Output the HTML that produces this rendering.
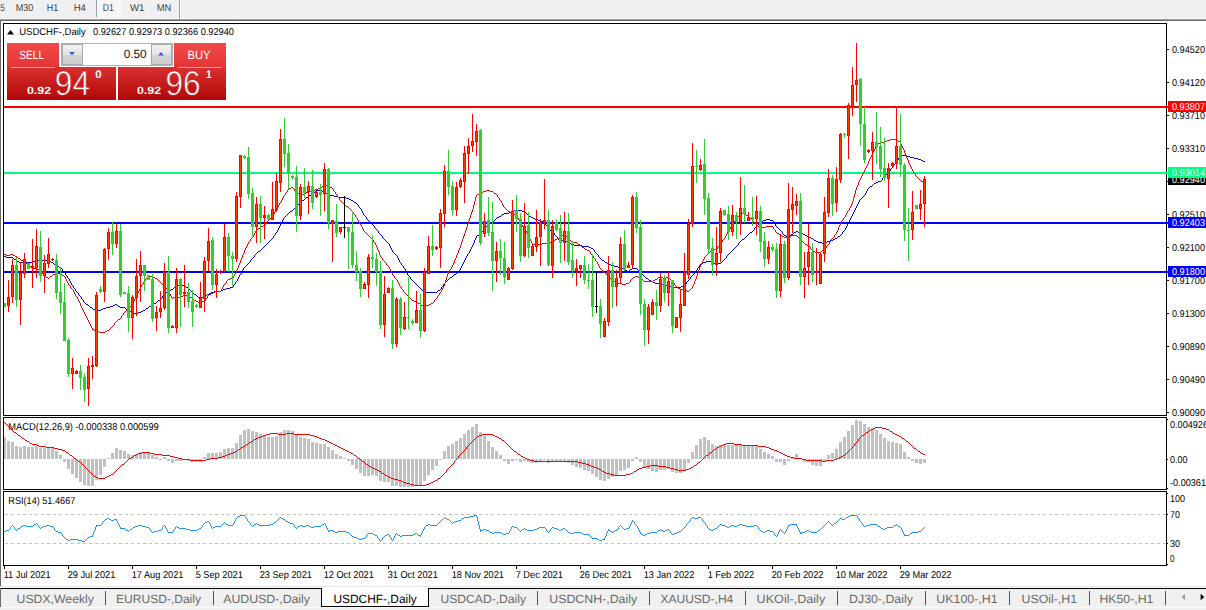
<!DOCTYPE html>
<html><head><meta charset="utf-8"><title>USDCHF-,Daily</title>
<style>html,body{margin:0;padding:0;background:#fff;overflow:hidden}svg{display:block}text{font-family:"Liberation Sans",sans-serif;white-space:pre}</style>
</head><body>
<svg width="1206" height="610" viewBox="0 0 1206 610" font-family="Liberation Sans, sans-serif" shape-rendering="crispEdges" text-rendering="geometricPrecision">
<defs>
<linearGradient id="gTop" x1="0" y1="0" x2="0" y2="1"><stop offset="0" stop-color="#f24a4a"/><stop offset="1" stop-color="#e43434"/></linearGradient>
<linearGradient id="gBot" gradientUnits="userSpaceOnUse" x1="0" y1="67" x2="0" y2="100"><stop offset="0" stop-color="#dc3030"/><stop offset="1" stop-color="#b00808"/></linearGradient>
<linearGradient id="gBtn" x1="0" y1="0" x2="0" y2="1"><stop offset="0" stop-color="#f4f4f4"/><stop offset="0.5" stop-color="#e4e4e4"/><stop offset="0.5" stop-color="#d4d4d4"/><stop offset="1" stop-color="#cfcfcf"/></linearGradient>
<pattern id="chk" width="2" height="2" patternUnits="userSpaceOnUse"><rect width="2" height="2" fill="#ffffff"/><rect width="1" height="1" fill="#f0f0f0"/><rect x="1" y="1" width="1" height="1" fill="#f0f0f0"/></pattern>
<clipPath id="cMain"><rect x="4" y="24" width="1162" height="391"/></clipPath>
<clipPath id="cMacd"><rect x="4" y="418" width="1162" height="71"/></clipPath>
<clipPath id="cRsi"><rect x="4" y="492" width="1162" height="73"/></clipPath>
</defs>
<rect x="0" y="0" width="1206" height="610" fill="#ffffff" />
<rect x="0" y="0" width="1206" height="19" fill="#f0f0f0" />
<rect x="0" y="18" width="1206" height="1" fill="#f8f8f8" />
<rect x="0" y="19" width="1206" height="1" fill="#a0a0a0" />
<rect x="0" y="20" width="1206" height="1" fill="#696969" />
<rect x="96" y="0" width="1" height="17" fill="#a0a0a0" />
<rect x="97" y="0" width="25" height="17" fill="url(#chk)" />
<rect x="179" y="0" width="1" height="19" fill="#a0a0a0" />
<rect x="180" y="0" width="1" height="19" fill="#ffffff" />
<g opacity="0.999">
<text x="0.3" y="11" font-size="10" fill="#404040" textLength="4.6" lengthAdjust="spacingAndGlyphs" >5</text>
<text x="15.7" y="11" font-size="10" fill="#404040" textLength="17.6" lengthAdjust="spacingAndGlyphs" >M30</text>
<text x="46.7" y="11" font-size="10" fill="#404040" textLength="11.5" lengthAdjust="spacingAndGlyphs" >H1</text>
<text x="73.7" y="11" font-size="10" fill="#404040" textLength="12.2" lengthAdjust="spacingAndGlyphs" >H4</text>
<text x="102.7" y="11" font-size="10" fill="#404040" textLength="11.2" lengthAdjust="spacingAndGlyphs" >D1</text>
<text x="130" y="11" font-size="10" fill="#404040" textLength="14.5" lengthAdjust="spacingAndGlyphs" >W1</text>
<text x="156.7" y="11" font-size="10" fill="#404040" textLength="14.6" lengthAdjust="spacingAndGlyphs" >MN</text>
</g>
<rect x="0" y="21" width="1" height="565" fill="#696969" />
<rect x="3" y="23" width="1164" height="1" fill="#000" />
<rect x="3" y="415" width="1164" height="1" fill="#000" />
<rect x="3" y="23" width="1" height="393" fill="#000" />
<rect x="1166" y="23" width="1" height="393" fill="#000" />
<rect x="3" y="417" width="1164" height="1" fill="#000" />
<rect x="3" y="489" width="1164" height="1" fill="#000" />
<rect x="3" y="417" width="1" height="73" fill="#000" />
<rect x="1166" y="417" width="1" height="73" fill="#000" />
<rect x="3" y="491" width="1164" height="1" fill="#000" />
<rect x="3" y="565" width="1164" height="1" fill="#000" />
<rect x="3" y="491" width="1" height="75" fill="#000" />
<rect x="1166" y="491" width="1" height="75" fill="#000" />
<rect x="4" y="106" width="1162" height="2" fill="#ff0000" />
<rect x="4" y="172" width="1162" height="2" fill="#00ff7f" />
<rect x="4" y="222" width="1162" height="2" fill="#0000ff" />
<rect x="4" y="271" width="1162" height="2" fill="#0000ff" />
<g clip-path="url(#cMain)">
<path fill="#0000ff" d="M902 155h4v1h-4zM900 156h2v1h-2zM906 156h4v1h-4zM899 157h1v1h-1zM910 157h4v1h-4zM898 158h1v1h-1zM914 158h4v1h-4zM898 159h1v1h-1zM918 159h3v1h-3zM897 160h1v1h-1zM921 160h2v1h-2zM896 161h1v1h-1zM923 161h2v1h-2zM895 162h1v1h-1zM895 163h1v1h-1zM894 164h1v1h-1zM893 165h1v1h-1zM893 166h1v1h-1zM892 167h1v1h-1zM891 168h1v1h-1zM890 169h1v1h-1zM890 170h1v1h-1zM889 171h1v1h-1zM888 172h1v1h-1zM887 173h1v1h-1zM886 174h1v1h-1zM885 175h1v1h-1zM884 176h1v1h-1zM883 177h1v1h-1zM882 178h1v1h-1zM882 179h1v1h-1zM881 180h1v1h-1zM878 181h3v1h-3zM876 182h2v1h-2zM874 183h2v1h-2zM873 184h1v1h-1zM872 185h1v1h-1zM870 186h2v1h-2zM869 187h1v1h-1zM868 188h1v1h-1zM867 189h1v1h-1zM316 190h6v1h-6zM867 190h1v1h-1zM315 191h1v1h-1zM322 191h3v1h-3zM866 191h1v1h-1zM314 192h1v1h-1zM325 192h1v1h-1zM866 192h1v1h-1zM313 193h1v1h-1zM326 193h2v1h-2zM865 193h1v1h-1zM311 194h2v1h-2zM328 194h2v1h-2zM865 194h1v1h-1zM309 195h2v1h-2zM330 195h4v1h-4zM864 195h1v1h-1zM308 196h1v1h-1zM334 196h4v1h-4zM863 196h1v1h-1zM306 197h2v1h-2zM338 197h8v1h-8zM862 197h1v1h-1zM305 198h1v1h-1zM346 198h3v1h-3zM861 198h1v1h-1zM304 199h1v1h-1zM349 199h2v1h-2zM860 199h1v1h-1zM302 200h2v1h-2zM351 200h2v1h-2zM859 200h1v1h-1zM301 201h1v1h-1zM353 201h1v1h-1zM859 201h1v1h-1zM300 202h1v1h-1zM354 202h2v1h-2zM858 202h1v1h-1zM299 203h1v1h-1zM356 203h1v1h-1zM858 203h1v1h-1zM298 204h1v1h-1zM357 204h1v1h-1zM857 204h1v1h-1zM297 205h1v1h-1zM358 205h1v1h-1zM857 205h1v1h-1zM296 206h1v1h-1zM358 206h1v1h-1zM856 206h1v1h-1zM295 207h1v1h-1zM359 207h1v1h-1zM856 207h1v1h-1zM294 208h1v1h-1zM360 208h1v1h-1zM855 208h1v1h-1zM293 209h1v1h-1zM361 209h1v1h-1zM855 209h1v1h-1zM292 210h1v1h-1zM361 210h1v1h-1zM514 210h8v1h-8zM854 210h1v1h-1zM290 211h2v1h-2zM362 211h1v1h-1zM511 211h3v1h-3zM522 211h3v1h-3zM854 211h1v1h-1zM289 212h1v1h-1zM362 212h1v1h-1zM509 212h2v1h-2zM525 212h1v1h-1zM853 212h1v1h-1zM288 213h1v1h-1zM363 213h1v1h-1zM504 213h5v1h-5zM526 213h1v1h-1zM853 213h1v1h-1zM287 214h1v1h-1zM363 214h1v1h-1zM502 214h2v1h-2zM527 214h1v1h-1zM852 214h1v1h-1zM286 215h1v1h-1zM364 215h1v1h-1zM501 215h1v1h-1zM528 215h1v1h-1zM852 215h1v1h-1zM285 216h1v1h-1zM365 216h1v1h-1zM499 216h2v1h-2zM529 216h2v1h-2zM851 216h1v1h-1zM284 217h1v1h-1zM366 217h1v1h-1zM497 217h2v1h-2zM531 217h2v1h-2zM851 217h1v1h-1zM283 218h1v1h-1zM366 218h1v1h-1zM496 218h1v1h-1zM533 218h2v1h-2zM850 218h1v1h-1zM283 219h1v1h-1zM367 219h1v1h-1zM495 219h1v1h-1zM535 219h3v1h-3zM766 219h4v1h-4zM850 219h1v1h-1zM282 220h1v1h-1zM368 220h1v1h-1zM494 220h1v1h-1zM538 220h3v1h-3zM763 220h3v1h-3zM770 220h3v1h-3zM849 220h1v1h-1zM282 221h1v1h-1zM369 221h1v1h-1zM493 221h1v1h-1zM541 221h2v1h-2zM761 221h2v1h-2zM773 221h1v1h-1zM849 221h1v1h-1zM281 222h1v1h-1zM370 222h1v1h-1zM491 222h2v1h-2zM543 222h2v1h-2zM760 222h1v1h-1zM773 222h1v1h-1zM848 222h1v1h-1zM281 223h1v1h-1zM371 223h1v1h-1zM489 223h2v1h-2zM545 223h1v1h-1zM759 223h1v1h-1zM774 223h1v1h-1zM848 223h1v1h-1zM280 224h1v1h-1zM372 224h1v1h-1zM488 224h1v1h-1zM545 224h1v1h-1zM758 224h1v1h-1zM775 224h1v1h-1zM847 224h1v1h-1zM280 225h1v1h-1zM373 225h1v1h-1zM487 225h1v1h-1zM546 225h1v1h-1zM757 225h1v1h-1zM775 225h1v1h-1zM847 225h1v1h-1zM279 226h1v1h-1zM374 226h1v1h-1zM486 226h1v1h-1zM547 226h1v1h-1zM756 226h1v1h-1zM776 226h1v1h-1zM846 226h1v1h-1zM279 227h1v1h-1zM374 227h1v1h-1zM485 227h1v1h-1zM547 227h1v1h-1zM755 227h1v1h-1zM777 227h1v1h-1zM846 227h1v1h-1zM278 228h1v1h-1zM375 228h1v1h-1zM484 228h1v1h-1zM548 228h1v1h-1zM754 228h1v1h-1zM778 228h1v1h-1zM845 228h1v1h-1zM278 229h1v1h-1zM376 229h1v1h-1zM483 229h1v1h-1zM549 229h1v1h-1zM754 229h1v1h-1zM779 229h1v1h-1zM845 229h1v1h-1zM277 230h1v1h-1zM377 230h1v1h-1zM483 230h1v1h-1zM550 230h2v1h-2zM753 230h1v1h-1zM780 230h1v1h-1zM844 230h1v1h-1zM277 231h1v1h-1zM378 231h1v1h-1zM482 231h1v1h-1zM552 231h1v1h-1zM752 231h1v1h-1zM781 231h1v1h-1zM796 231h2v1h-2zM843 231h1v1h-1zM276 232h1v1h-1zM378 232h1v1h-1zM481 232h1v1h-1zM553 232h1v1h-1zM750 232h2v1h-2zM782 232h1v1h-1zM794 232h2v1h-2zM798 232h3v1h-3zM842 232h1v1h-1zM275 233h1v1h-1zM379 233h1v1h-1zM481 233h1v1h-1zM554 233h1v1h-1zM749 233h1v1h-1zM782 233h1v1h-1zM793 233h1v1h-1zM801 233h2v1h-2zM842 233h1v1h-1zM275 234h1v1h-1zM380 234h1v1h-1zM479 234h2v1h-2zM554 234h1v1h-1zM748 234h1v1h-1zM783 234h1v1h-1zM791 234h2v1h-2zM803 234h2v1h-2zM841 234h1v1h-1zM274 235h1v1h-1zM381 235h1v1h-1zM477 235h2v1h-2zM555 235h1v1h-1zM747 235h1v1h-1zM784 235h2v1h-2zM789 235h2v1h-2zM805 235h2v1h-2zM840 235h1v1h-1zM273 236h1v1h-1zM382 236h1v1h-1zM476 236h1v1h-1zM556 236h1v1h-1zM746 236h1v1h-1zM786 236h3v1h-3zM807 236h2v1h-2zM838 236h2v1h-2zM273 237h1v1h-1zM382 237h1v1h-1zM476 237h1v1h-1zM557 237h1v1h-1zM745 237h1v1h-1zM809 237h2v1h-2zM837 237h1v1h-1zM272 238h1v1h-1zM383 238h1v1h-1zM475 238h1v1h-1zM558 238h1v1h-1zM744 238h1v1h-1zM811 238h2v1h-2zM835 238h2v1h-2zM271 239h1v1h-1zM384 239h1v1h-1zM475 239h1v1h-1zM558 239h1v1h-1zM742 239h2v1h-2zM813 239h1v1h-1zM833 239h2v1h-2zM270 240h1v1h-1zM385 240h1v1h-1zM474 240h1v1h-1zM559 240h1v1h-1zM562 240h3v1h-3zM741 240h1v1h-1zM814 240h2v1h-2zM830 240h3v1h-3zM269 241h1v1h-1zM386 241h1v1h-1zM474 241h1v1h-1zM560 241h2v1h-2zM565 241h2v1h-2zM740 241h1v1h-1zM816 241h2v1h-2zM827 241h3v1h-3zM268 242h1v1h-1zM387 242h1v1h-1zM474 242h1v1h-1zM567 242h2v1h-2zM739 242h1v1h-1zM818 242h4v1h-4zM825 242h2v1h-2zM267 243h1v1h-1zM388 243h1v1h-1zM473 243h1v1h-1zM569 243h2v1h-2zM738 243h1v1h-1zM822 243h3v1h-3zM266 244h1v1h-1zM389 244h1v1h-1zM473 244h1v1h-1zM571 244h3v1h-3zM738 244h1v1h-1zM265 245h1v1h-1zM389 245h1v1h-1zM472 245h1v1h-1zM574 245h8v1h-8zM737 245h1v1h-1zM264 246h1v1h-1zM390 246h1v1h-1zM472 246h1v1h-1zM582 246h7v1h-7zM736 246h1v1h-1zM263 247h1v1h-1zM390 247h1v1h-1zM471 247h1v1h-1zM589 247h2v1h-2zM735 247h1v1h-1zM262 248h1v1h-1zM391 248h1v1h-1zM471 248h1v1h-1zM591 248h2v1h-2zM734 248h1v1h-1zM261 249h1v1h-1zM391 249h1v1h-1zM470 249h1v1h-1zM593 249h1v1h-1zM733 249h1v1h-1zM260 250h1v1h-1zM392 250h1v1h-1zM470 250h1v1h-1zM594 250h1v1h-1zM732 250h1v1h-1zM258 251h2v1h-2zM392 251h1v1h-1zM469 251h1v1h-1zM594 251h1v1h-1zM731 251h1v1h-1zM257 252h1v1h-1zM393 252h1v1h-1zM469 252h1v1h-1zM595 252h1v1h-1zM730 252h1v1h-1zM256 253h1v1h-1zM394 253h1v1h-1zM468 253h1v1h-1zM596 253h1v1h-1zM729 253h1v1h-1zM255 254h1v1h-1zM395 254h1v1h-1zM467 254h1v1h-1zM597 254h1v1h-1zM728 254h1v1h-1zM254 255h1v1h-1zM396 255h1v1h-1zM467 255h1v1h-1zM598 255h1v1h-1zM727 255h1v1h-1zM4 256h2v1h-2zM254 256h1v1h-1zM397 256h1v1h-1zM466 256h1v1h-1zM598 256h1v1h-1zM726 256h1v1h-1zM6 257h7v1h-7zM253 257h1v1h-1zM397 257h1v1h-1zM466 257h1v1h-1zM599 257h1v1h-1zM726 257h1v1h-1zM13 258h1v1h-1zM252 258h1v1h-1zM398 258h1v1h-1zM465 258h1v1h-1zM600 258h1v1h-1zM725 258h1v1h-1zM14 259h2v1h-2zM251 259h1v1h-1zM398 259h1v1h-1zM465 259h1v1h-1zM601 259h1v1h-1zM724 259h1v1h-1zM16 260h1v1h-1zM35 260h14v1h-14zM250 260h1v1h-1zM399 260h1v1h-1zM464 260h1v1h-1zM602 260h2v1h-2zM723 260h1v1h-1zM17 261h2v1h-2zM33 261h2v1h-2zM49 261h2v1h-2zM250 261h1v1h-1zM399 261h1v1h-1zM464 261h1v1h-1zM604 261h1v1h-1zM706 261h7v1h-7zM722 261h1v1h-1zM19 262h14v1h-14zM51 262h2v1h-2zM249 262h1v1h-1zM400 262h1v1h-1zM463 262h1v1h-1zM605 262h2v1h-2zM703 262h3v1h-3zM713 262h1v1h-1zM721 262h1v1h-1zM53 263h1v1h-1zM248 263h1v1h-1zM401 263h1v1h-1zM463 263h1v1h-1zM607 263h2v1h-2zM701 263h2v1h-2zM714 263h2v1h-2zM718 263h3v1h-3zM54 264h2v1h-2zM247 264h1v1h-1zM401 264h1v1h-1zM462 264h1v1h-1zM609 264h2v1h-2zM700 264h1v1h-1zM716 264h2v1h-2zM56 265h1v1h-1zM246 265h1v1h-1zM402 265h1v1h-1zM462 265h1v1h-1zM611 265h3v1h-3zM699 265h1v1h-1zM57 266h2v1h-2zM245 266h1v1h-1zM403 266h1v1h-1zM461 266h1v1h-1zM614 266h4v1h-4zM699 266h1v1h-1zM59 267h2v1h-2zM244 267h1v1h-1zM403 267h1v1h-1zM461 267h1v1h-1zM618 267h3v1h-3zM698 267h1v1h-1zM61 268h1v1h-1zM243 268h1v1h-1zM404 268h1v1h-1zM460 268h1v1h-1zM621 268h2v1h-2zM632 268h5v1h-5zM697 268h1v1h-1zM62 269h1v1h-1zM243 269h1v1h-1zM405 269h1v1h-1zM460 269h1v1h-1zM623 269h2v1h-2zM630 269h2v1h-2zM637 269h1v1h-1zM697 269h1v1h-1zM62 270h1v1h-1zM242 270h1v1h-1zM405 270h1v1h-1zM459 270h1v1h-1zM625 270h2v1h-2zM629 270h1v1h-1zM638 270h1v1h-1zM696 270h1v1h-1zM63 271h1v1h-1zM242 271h1v1h-1zM406 271h1v1h-1zM458 271h1v1h-1zM627 271h2v1h-2zM639 271h1v1h-1zM695 271h1v1h-1zM64 272h1v1h-1zM241 272h1v1h-1zM406 272h1v1h-1zM457 272h1v1h-1zM640 272h1v1h-1zM694 272h1v1h-1zM65 273h1v1h-1zM241 273h1v1h-1zM407 273h1v1h-1zM456 273h1v1h-1zM641 273h1v1h-1zM694 273h1v1h-1zM65 274h1v1h-1zM240 274h1v1h-1zM407 274h1v1h-1zM454 274h2v1h-2zM642 274h1v1h-1zM693 274h1v1h-1zM66 275h1v1h-1zM239 275h1v1h-1zM408 275h1v1h-1zM453 275h1v1h-1zM643 275h1v1h-1zM692 275h1v1h-1zM67 276h1v1h-1zM239 276h1v1h-1zM409 276h1v1h-1zM452 276h1v1h-1zM644 276h1v1h-1zM691 276h1v1h-1zM67 277h1v1h-1zM238 277h1v1h-1zM410 277h1v1h-1zM450 277h2v1h-2zM645 277h1v1h-1zM690 277h1v1h-1zM68 278h1v1h-1zM238 278h1v1h-1zM410 278h1v1h-1zM449 278h1v1h-1zM646 278h2v1h-2zM690 278h1v1h-1zM69 279h1v1h-1zM237 279h1v1h-1zM411 279h1v1h-1zM448 279h1v1h-1zM648 279h1v1h-1zM689 279h1v1h-1zM69 280h1v1h-1zM237 280h1v1h-1zM412 280h1v1h-1zM447 280h1v1h-1zM649 280h2v1h-2zM688 280h1v1h-1zM70 281h1v1h-1zM236 281h1v1h-1zM413 281h1v1h-1zM446 281h1v1h-1zM651 281h2v1h-2zM687 281h1v1h-1zM70 282h1v1h-1zM235 282h1v1h-1zM414 282h1v1h-1zM445 282h1v1h-1zM653 282h2v1h-2zM686 282h1v1h-1zM71 283h1v1h-1zM235 283h1v1h-1zM415 283h1v1h-1zM444 283h1v1h-1zM655 283h6v1h-6zM686 283h1v1h-1zM71 284h1v1h-1zM234 284h1v1h-1zM416 284h1v1h-1zM443 284h1v1h-1zM661 284h2v1h-2zM685 284h1v1h-1zM72 285h1v1h-1zM176 285h9v1h-9zM233 285h1v1h-1zM417 285h1v1h-1zM443 285h1v1h-1zM663 285h6v1h-6zM683 285h2v1h-2zM73 286h1v1h-1zM175 286h1v1h-1zM185 286h1v1h-1zM233 286h1v1h-1zM418 286h1v1h-1zM442 286h1v1h-1zM669 286h2v1h-2zM681 286h2v1h-2zM73 287h1v1h-1zM174 287h1v1h-1zM186 287h2v1h-2zM230 287h3v1h-3zM419 287h1v1h-1zM441 287h1v1h-1zM671 287h10v1h-10zM74 288h1v1h-1zM173 288h1v1h-1zM188 288h1v1h-1zM226 288h4v1h-4zM420 288h1v1h-1zM441 288h1v1h-1zM75 289h1v1h-1zM171 289h2v1h-2zM189 289h1v1h-1zM223 289h3v1h-3zM421 289h1v1h-1zM440 289h1v1h-1zM75 290h1v1h-1zM169 290h2v1h-2zM190 290h1v1h-1zM221 290h2v1h-2zM422 290h2v1h-2zM438 290h2v1h-2zM76 291h1v1h-1zM168 291h1v1h-1zM191 291h1v1h-1zM214 291h7v1h-7zM424 291h2v1h-2zM437 291h1v1h-1zM77 292h1v1h-1zM166 292h2v1h-2zM192 292h1v1h-1zM211 292h3v1h-3zM426 292h11v1h-11zM78 293h1v1h-1zM165 293h1v1h-1zM193 293h1v1h-1zM209 293h2v1h-2zM78 294h1v1h-1zM164 294h1v1h-1zM194 294h2v1h-2zM207 294h2v1h-2zM79 295h1v1h-1zM163 295h1v1h-1zM196 295h1v1h-1zM205 295h2v1h-2zM80 296h1v1h-1zM162 296h1v1h-1zM197 296h1v1h-1zM203 296h2v1h-2zM81 297h1v1h-1zM162 297h1v1h-1zM198 297h2v1h-2zM201 297h2v1h-2zM81 298h1v1h-1zM161 298h1v1h-1zM200 298h1v1h-1zM82 299h1v1h-1zM160 299h1v1h-1zM83 300h1v1h-1zM158 300h2v1h-2zM83 301h1v1h-1zM157 301h1v1h-1zM84 302h1v1h-1zM156 302h1v1h-1zM85 303h1v1h-1zM154 303h2v1h-2zM86 304h2v1h-2zM115 304h2v1h-2zM153 304h1v1h-1zM88 305h1v1h-1zM113 305h2v1h-2zM117 305h1v1h-1zM151 305h2v1h-2zM89 306h1v1h-1zM110 306h3v1h-3zM118 306h2v1h-2zM149 306h2v1h-2zM90 307h2v1h-2zM106 307h4v1h-4zM120 307h5v1h-5zM148 307h1v1h-1zM92 308h1v1h-1zM103 308h3v1h-3zM125 308h1v1h-1zM146 308h2v1h-2zM93 309h2v1h-2zM101 309h2v1h-2zM126 309h2v1h-2zM145 309h1v1h-1zM95 310h6v1h-6zM128 310h1v1h-1zM143 310h2v1h-2zM129 311h2v1h-2zM141 311h2v1h-2zM131 312h3v1h-3zM138 312h3v1h-3zM134 313h4v1h-4z"/>
<path fill="#ff0000" d="M890 139h7v1h-7zM887 140h3v1h-3zM897 140h1v1h-1zM885 141h2v1h-2zM898 141h2v1h-2zM880 142h5v1h-5zM900 142h1v1h-1zM878 143h2v1h-2zM900 143h1v1h-1zM877 144h1v1h-1zM901 144h1v1h-1zM876 145h1v1h-1zM901 145h1v1h-1zM876 146h1v1h-1zM902 146h1v1h-1zM875 147h1v1h-1zM902 147h1v1h-1zM875 148h1v1h-1zM903 148h1v1h-1zM874 149h1v1h-1zM903 149h1v1h-1zM874 150h1v1h-1zM904 150h1v1h-1zM873 151h1v1h-1zM904 151h1v1h-1zM873 152h1v1h-1zM904 152h1v1h-1zM872 153h1v1h-1zM905 153h1v1h-1zM872 154h1v1h-1zM905 154h1v1h-1zM871 155h1v1h-1zM906 155h1v1h-1zM871 156h1v1h-1zM906 156h1v1h-1zM870 157h1v1h-1zM906 157h1v1h-1zM870 158h1v1h-1zM907 158h1v1h-1zM869 159h1v1h-1zM907 159h1v1h-1zM869 160h1v1h-1zM908 160h1v1h-1zM868 161h1v1h-1zM908 161h1v1h-1zM868 162h1v1h-1zM908 162h1v1h-1zM868 163h1v1h-1zM909 163h1v1h-1zM867 164h1v1h-1zM909 164h1v1h-1zM867 165h1v1h-1zM910 165h1v1h-1zM866 166h1v1h-1zM910 166h1v1h-1zM866 167h1v1h-1zM911 167h1v1h-1zM865 168h1v1h-1zM911 168h1v1h-1zM865 169h1v1h-1zM912 169h1v1h-1zM864 170h1v1h-1zM912 170h1v1h-1zM864 171h1v1h-1zM913 171h1v1h-1zM863 172h1v1h-1zM913 172h1v1h-1zM863 173h1v1h-1zM914 173h1v1h-1zM862 174h1v1h-1zM915 174h1v1h-1zM862 175h1v1h-1zM915 175h1v1h-1zM861 176h1v1h-1zM916 176h1v1h-1zM861 177h1v1h-1zM917 177h1v1h-1zM860 178h1v1h-1zM918 178h1v1h-1zM860 179h1v1h-1zM919 179h1v1h-1zM859 180h1v1h-1zM920 180h1v1h-1zM859 181h1v1h-1zM921 181h2v1h-2zM858 182h1v1h-1zM923 182h2v1h-2zM858 183h1v1h-1zM324 184h2v1h-2zM858 184h1v1h-1zM323 185h1v1h-1zM326 185h3v1h-3zM857 185h1v1h-1zM322 186h1v1h-1zM329 186h1v1h-1zM857 186h1v1h-1zM291 187h2v1h-2zM321 187h1v1h-1zM330 187h2v1h-2zM856 187h1v1h-1zM289 188h2v1h-2zM293 188h1v1h-1zM318 188h3v1h-3zM332 188h1v1h-1zM856 188h1v1h-1zM288 189h1v1h-1zM294 189h1v1h-1zM315 189h3v1h-3zM333 189h1v1h-1zM856 189h1v1h-1zM287 190h1v1h-1zM294 190h1v1h-1zM313 190h2v1h-2zM333 190h1v1h-1zM486 190h4v1h-4zM855 190h1v1h-1zM287 191h1v1h-1zM295 191h1v1h-1zM308 191h5v1h-5zM334 191h1v1h-1zM483 191h3v1h-3zM490 191h3v1h-3zM855 191h1v1h-1zM286 192h1v1h-1zM296 192h1v1h-1zM306 192h2v1h-2zM335 192h1v1h-1zM481 192h2v1h-2zM493 192h1v1h-1zM855 192h1v1h-1zM285 193h1v1h-1zM297 193h2v1h-2zM305 193h1v1h-1zM335 193h1v1h-1zM479 193h2v1h-2zM494 193h2v1h-2zM855 193h1v1h-1zM285 194h1v1h-1zM299 194h6v1h-6zM336 194h1v1h-1zM477 194h2v1h-2zM496 194h1v1h-1zM854 194h1v1h-1zM284 195h1v1h-1zM337 195h1v1h-1zM476 195h1v1h-1zM497 195h1v1h-1zM854 195h1v1h-1zM283 196h1v1h-1zM337 196h1v1h-1zM476 196h1v1h-1zM497 196h1v1h-1zM854 196h1v1h-1zM283 197h1v1h-1zM338 197h1v1h-1zM475 197h1v1h-1zM498 197h1v1h-1zM853 197h1v1h-1zM282 198h1v1h-1zM339 198h1v1h-1zM475 198h1v1h-1zM499 198h1v1h-1zM853 198h1v1h-1zM282 199h1v1h-1zM339 199h1v1h-1zM475 199h1v1h-1zM499 199h1v1h-1zM853 199h1v1h-1zM281 200h1v1h-1zM340 200h1v1h-1zM475 200h1v1h-1zM500 200h1v1h-1zM853 200h1v1h-1zM281 201h1v1h-1zM341 201h1v1h-1zM474 201h1v1h-1zM501 201h1v1h-1zM852 201h1v1h-1zM280 202h1v1h-1zM342 202h1v1h-1zM474 202h1v1h-1zM501 202h1v1h-1zM852 202h1v1h-1zM279 203h1v1h-1zM343 203h1v1h-1zM474 203h1v1h-1zM502 203h1v1h-1zM852 203h1v1h-1zM279 204h1v1h-1zM344 204h1v1h-1zM474 204h1v1h-1zM502 204h1v1h-1zM851 204h1v1h-1zM278 205h1v1h-1zM345 205h1v1h-1zM473 205h1v1h-1zM503 205h1v1h-1zM851 205h1v1h-1zM278 206h1v1h-1zM346 206h2v1h-2zM473 206h1v1h-1zM503 206h1v1h-1zM850 206h1v1h-1zM277 207h1v1h-1zM348 207h1v1h-1zM473 207h1v1h-1zM504 207h1v1h-1zM850 207h1v1h-1zM277 208h1v1h-1zM349 208h1v1h-1zM473 208h1v1h-1zM505 208h1v1h-1zM849 208h1v1h-1zM276 209h1v1h-1zM350 209h1v1h-1zM472 209h1v1h-1zM506 209h1v1h-1zM849 209h1v1h-1zM275 210h1v1h-1zM351 210h1v1h-1zM472 210h1v1h-1zM507 210h1v1h-1zM848 210h1v1h-1zM275 211h1v1h-1zM352 211h1v1h-1zM472 211h1v1h-1zM508 211h2v1h-2zM847 211h1v1h-1zM274 212h1v1h-1zM353 212h1v1h-1zM471 212h1v1h-1zM510 212h3v1h-3zM847 212h1v1h-1zM274 213h1v1h-1zM353 213h1v1h-1zM471 213h1v1h-1zM513 213h1v1h-1zM742 213h3v1h-3zM846 213h1v1h-1zM273 214h1v1h-1zM354 214h1v1h-1zM471 214h1v1h-1zM514 214h2v1h-2zM740 214h2v1h-2zM745 214h1v1h-1zM846 214h1v1h-1zM273 215h1v1h-1zM355 215h1v1h-1zM470 215h1v1h-1zM516 215h1v1h-1zM739 215h1v1h-1zM746 215h2v1h-2zM845 215h1v1h-1zM272 216h1v1h-1zM355 216h1v1h-1zM470 216h1v1h-1zM517 216h1v1h-1zM738 216h1v1h-1zM748 216h1v1h-1zM845 216h1v1h-1zM271 217h1v1h-1zM356 217h1v1h-1zM470 217h1v1h-1zM517 217h1v1h-1zM737 217h1v1h-1zM749 217h1v1h-1zM844 217h1v1h-1zM270 218h1v1h-1zM357 218h1v1h-1zM469 218h1v1h-1zM518 218h1v1h-1zM736 218h1v1h-1zM750 218h1v1h-1zM843 218h1v1h-1zM269 219h1v1h-1zM357 219h1v1h-1zM469 219h1v1h-1zM518 219h1v1h-1zM735 219h1v1h-1zM751 219h1v1h-1zM843 219h1v1h-1zM268 220h1v1h-1zM358 220h1v1h-1zM469 220h1v1h-1zM519 220h1v1h-1zM735 220h1v1h-1zM752 220h1v1h-1zM842 220h1v1h-1zM267 221h1v1h-1zM358 221h1v1h-1zM468 221h1v1h-1zM519 221h1v1h-1zM734 221h1v1h-1zM753 221h1v1h-1zM841 221h1v1h-1zM266 222h1v1h-1zM359 222h1v1h-1zM468 222h1v1h-1zM520 222h1v1h-1zM733 222h1v1h-1zM754 222h1v1h-1zM841 222h1v1h-1zM266 223h1v1h-1zM359 223h1v1h-1zM468 223h1v1h-1zM520 223h1v1h-1zM733 223h1v1h-1zM755 223h1v1h-1zM840 223h1v1h-1zM265 224h1v1h-1zM360 224h1v1h-1zM467 224h1v1h-1zM521 224h1v1h-1zM732 224h1v1h-1zM756 224h1v1h-1zM840 224h1v1h-1zM263 225h2v1h-2zM361 225h1v1h-1zM467 225h1v1h-1zM522 225h1v1h-1zM731 225h1v1h-1zM757 225h1v1h-1zM839 225h1v1h-1zM261 226h2v1h-2zM361 226h1v1h-1zM467 226h1v1h-1zM522 226h1v1h-1zM731 226h1v1h-1zM758 226h2v1h-2zM766 226h7v1h-7zM839 226h1v1h-1zM260 227h1v1h-1zM362 227h1v1h-1zM466 227h1v1h-1zM523 227h1v1h-1zM730 227h1v1h-1zM760 227h6v1h-6zM773 227h1v1h-1zM838 227h1v1h-1zM258 228h2v1h-2zM362 228h1v1h-1zM466 228h1v1h-1zM524 228h1v1h-1zM730 228h1v1h-1zM773 228h1v1h-1zM838 228h1v1h-1zM257 229h1v1h-1zM363 229h1v1h-1zM466 229h1v1h-1zM525 229h1v1h-1zM729 229h1v1h-1zM774 229h1v1h-1zM838 229h1v1h-1zM256 230h1v1h-1zM363 230h1v1h-1zM465 230h1v1h-1zM525 230h1v1h-1zM729 230h1v1h-1zM775 230h1v1h-1zM837 230h1v1h-1zM255 231h1v1h-1zM364 231h1v1h-1zM465 231h1v1h-1zM526 231h1v1h-1zM728 231h1v1h-1zM775 231h1v1h-1zM837 231h1v1h-1zM255 232h1v1h-1zM365 232h1v1h-1zM465 232h1v1h-1zM526 232h1v1h-1zM727 232h1v1h-1zM776 232h1v1h-1zM836 232h1v1h-1zM254 233h1v1h-1zM366 233h1v1h-1zM464 233h1v1h-1zM527 233h1v1h-1zM727 233h1v1h-1zM777 233h2v1h-2zM836 233h1v1h-1zM254 234h1v1h-1zM367 234h1v1h-1zM464 234h1v1h-1zM527 234h1v1h-1zM564 234h1v1h-1zM726 234h1v1h-1zM779 234h2v1h-2zM835 234h1v1h-1zM253 235h1v1h-1zM368 235h1v1h-1zM464 235h1v1h-1zM528 235h1v1h-1zM562 235h2v1h-2zM565 235h1v1h-1zM726 235h1v1h-1zM781 235h1v1h-1zM791 235h6v1h-6zM834 235h1v1h-1zM253 236h1v1h-1zM369 236h1v1h-1zM463 236h1v1h-1zM528 236h1v1h-1zM561 236h1v1h-1zM566 236h1v1h-1zM725 236h1v1h-1zM782 236h2v1h-2zM789 236h2v1h-2zM797 236h1v1h-1zM834 236h1v1h-1zM252 237h1v1h-1zM370 237h1v1h-1zM463 237h1v1h-1zM529 237h1v1h-1zM559 237h2v1h-2zM567 237h1v1h-1zM725 237h1v1h-1zM784 237h5v1h-5zM798 237h1v1h-1zM833 237h1v1h-1zM251 238h1v1h-1zM371 238h1v1h-1zM463 238h1v1h-1zM529 238h1v1h-1zM557 238h2v1h-2zM568 238h1v1h-1zM724 238h1v1h-1zM799 238h1v1h-1zM832 238h1v1h-1zM250 239h1v1h-1zM372 239h1v1h-1zM462 239h1v1h-1zM530 239h1v1h-1zM555 239h2v1h-2zM569 239h1v1h-1zM723 239h1v1h-1zM800 239h1v1h-1zM831 239h1v1h-1zM250 240h1v1h-1zM373 240h1v1h-1zM462 240h1v1h-1zM530 240h1v1h-1zM553 240h2v1h-2zM570 240h1v1h-1zM722 240h1v1h-1zM801 240h1v1h-1zM831 240h1v1h-1zM249 241h1v1h-1zM373 241h1v1h-1zM462 241h1v1h-1zM531 241h1v1h-1zM551 241h2v1h-2zM571 241h1v1h-1zM722 241h1v1h-1zM802 241h1v1h-1zM830 241h1v1h-1zM248 242h1v1h-1zM374 242h1v1h-1zM461 242h1v1h-1zM531 242h1v1h-1zM549 242h2v1h-2zM572 242h5v1h-5zM721 242h1v1h-1zM803 242h1v1h-1zM829 242h1v1h-1zM248 243h1v1h-1zM375 243h1v1h-1zM461 243h1v1h-1zM532 243h1v1h-1zM542 243h7v1h-7zM577 243h1v1h-1zM720 243h1v1h-1zM804 243h1v1h-1zM829 243h1v1h-1zM247 244h1v1h-1zM375 244h1v1h-1zM461 244h1v1h-1zM532 244h10v1h-10zM578 244h2v1h-2zM719 244h1v1h-1zM805 244h2v1h-2zM828 244h1v1h-1zM247 245h1v1h-1zM376 245h1v1h-1zM460 245h1v1h-1zM580 245h1v1h-1zM719 245h1v1h-1zM807 245h2v1h-2zM827 245h1v1h-1zM246 246h1v1h-1zM376 246h1v1h-1zM460 246h1v1h-1zM581 246h1v1h-1zM718 246h1v1h-1zM809 246h1v1h-1zM826 246h1v1h-1zM246 247h1v1h-1zM377 247h1v1h-1zM460 247h1v1h-1zM582 247h2v1h-2zM717 247h1v1h-1zM810 247h1v1h-1zM826 247h1v1h-1zM245 248h1v1h-1zM377 248h1v1h-1zM459 248h1v1h-1zM584 248h1v1h-1zM717 248h1v1h-1zM810 248h1v1h-1zM825 248h1v1h-1zM245 249h1v1h-1zM377 249h1v1h-1zM459 249h1v1h-1zM585 249h2v1h-2zM714 249h3v1h-3zM811 249h1v1h-1zM824 249h1v1h-1zM244 250h1v1h-1zM378 250h1v1h-1zM458 250h1v1h-1zM587 250h2v1h-2zM712 250h2v1h-2zM812 250h1v1h-1zM822 250h2v1h-2zM244 251h1v1h-1zM378 251h1v1h-1zM458 251h1v1h-1zM589 251h1v1h-1zM710 251h2v1h-2zM813 251h2v1h-2zM821 251h1v1h-1zM244 252h1v1h-1zM379 252h1v1h-1zM458 252h1v1h-1zM590 252h1v1h-1zM709 252h1v1h-1zM815 252h6v1h-6zM243 253h1v1h-1zM379 253h1v1h-1zM457 253h1v1h-1zM590 253h1v1h-1zM708 253h1v1h-1zM4 254h2v1h-2zM10 254h3v1h-3zM243 254h1v1h-1zM379 254h1v1h-1zM457 254h1v1h-1zM591 254h1v1h-1zM707 254h1v1h-1zM6 255h4v1h-4zM13 255h2v1h-2zM242 255h1v1h-1zM380 255h1v1h-1zM456 255h1v1h-1zM592 255h1v1h-1zM706 255h1v1h-1zM15 256h2v1h-2zM242 256h1v1h-1zM380 256h1v1h-1zM456 256h1v1h-1zM593 256h1v1h-1zM705 256h1v1h-1zM17 257h1v1h-1zM242 257h1v1h-1zM381 257h1v1h-1zM456 257h1v1h-1zM593 257h1v1h-1zM704 257h1v1h-1zM18 258h2v1h-2zM241 258h1v1h-1zM382 258h1v1h-1zM455 258h1v1h-1zM594 258h1v1h-1zM704 258h1v1h-1zM20 259h1v1h-1zM241 259h1v1h-1zM382 259h1v1h-1zM455 259h1v1h-1zM595 259h1v1h-1zM703 259h1v1h-1zM21 260h2v1h-2zM240 260h1v1h-1zM383 260h1v1h-1zM454 260h1v1h-1zM595 260h1v1h-1zM703 260h1v1h-1zM23 261h2v1h-2zM240 261h1v1h-1zM384 261h1v1h-1zM454 261h1v1h-1zM596 261h1v1h-1zM702 261h1v1h-1zM25 262h1v1h-1zM240 262h1v1h-1zM385 262h1v1h-1zM454 262h1v1h-1zM597 262h1v1h-1zM702 262h1v1h-1zM26 263h2v1h-2zM239 263h1v1h-1zM386 263h1v1h-1zM453 263h1v1h-1zM597 263h1v1h-1zM701 263h1v1h-1zM28 264h1v1h-1zM239 264h1v1h-1zM386 264h1v1h-1zM453 264h1v1h-1zM598 264h1v1h-1zM701 264h1v1h-1zM29 265h1v1h-1zM238 265h1v1h-1zM387 265h1v1h-1zM452 265h1v1h-1zM598 265h1v1h-1zM700 265h1v1h-1zM30 266h1v1h-1zM238 266h1v1h-1zM388 266h1v1h-1zM452 266h1v1h-1zM599 266h1v1h-1zM700 266h1v1h-1zM31 267h1v1h-1zM238 267h1v1h-1zM389 267h1v1h-1zM451 267h1v1h-1zM599 267h1v1h-1zM699 267h1v1h-1zM32 268h5v1h-5zM237 268h1v1h-1zM389 268h1v1h-1zM451 268h1v1h-1zM600 268h1v1h-1zM699 268h1v1h-1zM37 269h2v1h-2zM237 269h1v1h-1zM390 269h1v1h-1zM450 269h1v1h-1zM601 269h1v1h-1zM699 269h1v1h-1zM39 270h2v1h-2zM236 270h1v1h-1zM390 270h1v1h-1zM449 270h1v1h-1zM602 270h1v1h-1zM698 270h1v1h-1zM41 271h1v1h-1zM236 271h1v1h-1zM391 271h1v1h-1zM449 271h1v1h-1zM603 271h1v1h-1zM698 271h1v1h-1zM42 272h1v1h-1zM235 272h1v1h-1zM391 272h1v1h-1zM448 272h1v1h-1zM604 272h1v1h-1zM698 272h1v1h-1zM42 273h1v1h-1zM55 273h6v1h-6zM235 273h1v1h-1zM392 273h1v1h-1zM448 273h1v1h-1zM605 273h1v1h-1zM697 273h1v1h-1zM43 274h1v1h-1zM53 274h2v1h-2zM61 274h1v1h-1zM234 274h1v1h-1zM392 274h1v1h-1zM447 274h1v1h-1zM606 274h1v1h-1zM697 274h1v1h-1zM44 275h1v1h-1zM52 275h1v1h-1zM62 275h2v1h-2zM148 275h2v1h-2zM234 275h1v1h-1zM393 275h1v1h-1zM447 275h1v1h-1zM607 275h1v1h-1zM697 275h1v1h-1zM45 276h1v1h-1zM50 276h2v1h-2zM64 276h1v1h-1zM147 276h1v1h-1zM150 276h3v1h-3zM233 276h1v1h-1zM394 276h1v1h-1zM447 276h1v1h-1zM608 276h1v1h-1zM635 276h3v1h-3zM660 276h1v1h-1zM696 276h1v1h-1zM46 277h2v1h-2zM49 277h1v1h-1zM65 277h1v1h-1zM147 277h1v1h-1zM153 277h2v1h-2zM233 277h1v1h-1zM394 277h1v1h-1zM446 277h1v1h-1zM609 277h1v1h-1zM633 277h2v1h-2zM638 277h3v1h-3zM658 277h2v1h-2zM661 277h2v1h-2zM666 277h3v1h-3zM696 277h1v1h-1zM48 278h1v1h-1zM65 278h1v1h-1zM146 278h1v1h-1zM155 278h2v1h-2zM230 278h3v1h-3zM395 278h1v1h-1zM446 278h1v1h-1zM610 278h1v1h-1zM632 278h1v1h-1zM641 278h1v1h-1zM657 278h1v1h-1zM663 278h3v1h-3zM669 278h1v1h-1zM696 278h1v1h-1zM66 279h1v1h-1zM145 279h1v1h-1zM157 279h1v1h-1zM228 279h2v1h-2zM396 279h1v1h-1zM446 279h1v1h-1zM611 279h1v1h-1zM631 279h1v1h-1zM642 279h1v1h-1zM655 279h2v1h-2zM670 279h1v1h-1zM695 279h1v1h-1zM66 280h1v1h-1zM145 280h1v1h-1zM158 280h1v1h-1zM227 280h1v1h-1zM397 280h1v1h-1zM445 280h1v1h-1zM612 280h1v1h-1zM630 280h1v1h-1zM643 280h1v1h-1zM653 280h2v1h-2zM671 280h1v1h-1zM695 280h1v1h-1zM67 281h1v1h-1zM144 281h1v1h-1zM159 281h1v1h-1zM226 281h1v1h-1zM397 281h1v1h-1zM445 281h1v1h-1zM613 281h2v1h-2zM630 281h1v1h-1zM644 281h9v1h-9zM672 281h1v1h-1zM694 281h1v1h-1zM67 282h1v1h-1zM143 282h1v1h-1zM160 282h1v1h-1zM226 282h1v1h-1zM398 282h1v1h-1zM445 282h1v1h-1zM615 282h3v1h-3zM629 282h1v1h-1zM673 282h1v1h-1zM694 282h1v1h-1zM68 283h1v1h-1zM143 283h1v1h-1zM161 283h1v1h-1zM225 283h1v1h-1zM398 283h1v1h-1zM444 283h1v1h-1zM618 283h4v1h-4zM626 283h3v1h-3zM674 283h1v1h-1zM694 283h1v1h-1zM68 284h1v1h-1zM142 284h1v1h-1zM162 284h2v1h-2zM224 284h1v1h-1zM399 284h1v1h-1zM444 284h1v1h-1zM622 284h4v1h-4zM674 284h1v1h-1zM693 284h1v1h-1zM69 285h1v1h-1zM141 285h1v1h-1zM164 285h1v1h-1zM223 285h1v1h-1zM399 285h1v1h-1zM444 285h1v1h-1zM675 285h1v1h-1zM693 285h1v1h-1zM70 286h1v1h-1zM141 286h1v1h-1zM165 286h1v1h-1zM223 286h1v1h-1zM400 286h1v1h-1zM443 286h1v1h-1zM676 286h1v1h-1zM692 286h1v1h-1zM70 287h1v1h-1zM140 287h1v1h-1zM165 287h1v1h-1zM222 287h1v1h-1zM401 287h1v1h-1zM443 287h1v1h-1zM677 287h1v1h-1zM692 287h1v1h-1zM71 288h1v1h-1zM140 288h1v1h-1zM166 288h1v1h-1zM222 288h1v1h-1zM401 288h1v1h-1zM442 288h1v1h-1zM678 288h2v1h-2zM691 288h1v1h-1zM72 289h1v1h-1zM139 289h1v1h-1zM167 289h1v1h-1zM221 289h1v1h-1zM402 289h1v1h-1zM442 289h1v1h-1zM680 289h5v1h-5zM690 289h1v1h-1zM73 290h1v1h-1zM139 290h1v1h-1zM167 290h1v1h-1zM221 290h1v1h-1zM403 290h1v1h-1zM441 290h1v1h-1zM685 290h2v1h-2zM689 290h1v1h-1zM73 291h1v1h-1zM138 291h1v1h-1zM168 291h1v1h-1zM215 291h6v1h-6zM403 291h1v1h-1zM441 291h1v1h-1zM687 291h2v1h-2zM74 292h1v1h-1zM138 292h1v1h-1zM169 292h1v1h-1zM213 292h2v1h-2zM404 292h1v1h-1zM440 292h1v1h-1zM74 293h1v1h-1zM137 293h1v1h-1zM169 293h1v1h-1zM211 293h2v1h-2zM405 293h1v1h-1zM439 293h1v1h-1zM75 294h1v1h-1zM137 294h1v1h-1zM170 294h1v1h-1zM209 294h2v1h-2zM406 294h1v1h-1zM439 294h1v1h-1zM75 295h1v1h-1zM136 295h1v1h-1zM170 295h1v1h-1zM183 295h6v1h-6zM208 295h1v1h-1zM407 295h1v1h-1zM438 295h1v1h-1zM76 296h1v1h-1zM136 296h1v1h-1zM171 296h1v1h-1zM175 296h3v1h-3zM181 296h2v1h-2zM189 296h1v1h-1zM207 296h1v1h-1zM408 296h1v1h-1zM437 296h1v1h-1zM77 297h1v1h-1zM135 297h1v1h-1zM171 297h1v1h-1zM173 297h2v1h-2zM178 297h3v1h-3zM190 297h2v1h-2zM207 297h1v1h-1zM409 297h1v1h-1zM437 297h1v1h-1zM77 298h1v1h-1zM135 298h1v1h-1zM172 298h1v1h-1zM192 298h1v1h-1zM206 298h1v1h-1zM410 298h1v1h-1zM436 298h1v1h-1zM78 299h1v1h-1zM134 299h1v1h-1zM193 299h1v1h-1zM205 299h1v1h-1zM411 299h1v1h-1zM435 299h1v1h-1zM78 300h1v1h-1zM134 300h1v1h-1zM194 300h2v1h-2zM205 300h1v1h-1zM412 300h2v1h-2zM434 300h1v1h-1zM79 301h1v1h-1zM133 301h1v1h-1zM196 301h2v1h-2zM202 301h3v1h-3zM414 301h3v1h-3zM434 301h1v1h-1zM79 302h1v1h-1zM133 302h1v1h-1zM198 302h4v1h-4zM417 302h1v1h-1zM433 302h1v1h-1zM80 303h1v1h-1zM132 303h1v1h-1zM418 303h2v1h-2zM431 303h2v1h-2zM80 304h1v1h-1zM131 304h1v1h-1zM420 304h1v1h-1zM429 304h2v1h-2zM80 305h1v1h-1zM131 305h1v1h-1zM421 305h2v1h-2zM426 305h3v1h-3zM81 306h1v1h-1zM130 306h1v1h-1zM423 306h3v1h-3zM81 307h1v1h-1zM129 307h1v1h-1zM82 308h1v1h-1zM129 308h1v1h-1zM82 309h1v1h-1zM128 309h1v1h-1zM83 310h1v1h-1zM126 310h2v1h-2zM83 311h1v1h-1zM125 311h1v1h-1zM84 312h1v1h-1zM124 312h1v1h-1zM84 313h1v1h-1zM123 313h1v1h-1zM85 314h1v1h-1zM123 314h1v1h-1zM85 315h1v1h-1zM122 315h1v1h-1zM86 316h1v1h-1zM121 316h1v1h-1zM86 317h1v1h-1zM121 317h1v1h-1zM87 318h1v1h-1zM120 318h1v1h-1zM87 319h1v1h-1zM118 319h2v1h-2zM88 320h1v1h-1zM117 320h1v1h-1zM88 321h1v1h-1zM116 321h1v1h-1zM89 322h1v1h-1zM115 322h1v1h-1zM89 323h1v1h-1zM114 323h1v1h-1zM90 324h1v1h-1zM114 324h1v1h-1zM90 325h1v1h-1zM113 325h1v1h-1zM91 326h1v1h-1zM112 326h1v1h-1zM91 327h1v1h-1zM111 327h1v1h-1zM92 328h1v1h-1zM110 328h1v1h-1zM92 329h2v1h-2zM109 329h1v1h-1zM94 330h3v1h-3zM107 330h2v1h-2zM97 331h2v1h-2zM105 331h2v1h-2zM99 332h6v1h-6z"/>
<rect x="4" y="303" width="1" height="4" fill="#32cd32"/>
<rect x="3" y="303" width="3" height="4" fill="#32cd32"/>
<rect x="8" y="280" width="1" height="32" fill="#ff0000"/>
<rect x="7" y="297" width="3" height="9" fill="#ff0000"/>
<rect x="8" y="298" width="1" height="7" fill="#ff3c00"/>
<rect x="12" y="259" width="1" height="44" fill="#ff0000"/>
<rect x="11" y="265" width="3" height="32" fill="#ff0000"/>
<rect x="12" y="266" width="1" height="30" fill="#ff3c00"/>
<rect x="16" y="257" width="1" height="50" fill="#32cd32"/>
<rect x="15" y="265" width="3" height="35" fill="#32cd32"/>
<rect x="20" y="262" width="1" height="63" fill="#ff0000"/>
<rect x="19" y="273" width="3" height="27" fill="#ff0000"/>
<rect x="20" y="274" width="1" height="25" fill="#ff3c00"/>
<rect x="24" y="253" width="1" height="25" fill="#ff0000"/>
<rect x="23" y="259" width="3" height="15" fill="#ff0000"/>
<rect x="24" y="260" width="1" height="13" fill="#ff3c00"/>
<rect x="28" y="263" width="1" height="6" fill="#32cd32"/>
<rect x="27" y="263" width="3" height="6" fill="#32cd32"/>
<rect x="32" y="239" width="1" height="49" fill="#ff0000"/>
<rect x="31" y="266" width="3" height="2" fill="#ff0000"/>
<rect x="36" y="229" width="1" height="49" fill="#ff0000"/>
<rect x="35" y="246" width="3" height="22" fill="#ff0000"/>
<rect x="36" y="247" width="1" height="20" fill="#ff3c00"/>
<rect x="40" y="231" width="1" height="51" fill="#32cd32"/>
<rect x="39" y="247" width="3" height="29" fill="#32cd32"/>
<rect x="44" y="255" width="1" height="38" fill="#ff0000"/>
<rect x="43" y="263" width="3" height="13" fill="#ff0000"/>
<rect x="44" y="264" width="1" height="11" fill="#ff3c00"/>
<rect x="48" y="238" width="1" height="30" fill="#ff0000"/>
<rect x="47" y="254" width="3" height="10" fill="#ff0000"/>
<rect x="48" y="255" width="1" height="8" fill="#ff3c00"/>
<rect x="52" y="258" width="1" height="3" fill="#ff0000"/>
<rect x="51" y="259" width="3" height="1" fill="#ff0000"/>
<rect x="56" y="254" width="1" height="45" fill="#32cd32"/>
<rect x="55" y="260" width="3" height="33" fill="#32cd32"/>
<rect x="60" y="267" width="1" height="47" fill="#32cd32"/>
<rect x="59" y="292" width="3" height="11" fill="#32cd32"/>
<rect x="64" y="283" width="1" height="58" fill="#32cd32"/>
<rect x="63" y="302" width="3" height="39" fill="#32cd32"/>
<rect x="68" y="338" width="1" height="39" fill="#32cd32"/>
<rect x="67" y="340" width="3" height="34" fill="#32cd32"/>
<rect x="72" y="358" width="1" height="31" fill="#ff0000"/>
<rect x="71" y="368" width="3" height="6" fill="#ff0000"/>
<rect x="72" y="369" width="1" height="4" fill="#ff3c00"/>
<rect x="76" y="370" width="1" height="4" fill="#ff0000"/>
<rect x="75" y="371" width="3" height="3" fill="#ff0000"/>
<rect x="76" y="372" width="1" height="1" fill="#ff3c00"/>
<rect x="80" y="365" width="1" height="25" fill="#32cd32"/>
<rect x="79" y="371" width="3" height="7" fill="#32cd32"/>
<rect x="84" y="373" width="1" height="29" fill="#32cd32"/>
<rect x="83" y="377" width="3" height="13" fill="#32cd32"/>
<rect x="88" y="358" width="1" height="48" fill="#ff0000"/>
<rect x="87" y="366" width="3" height="23" fill="#ff0000"/>
<rect x="88" y="367" width="1" height="21" fill="#ff3c00"/>
<rect x="92" y="356" width="1" height="23" fill="#ff0000"/>
<rect x="91" y="365" width="3" height="2" fill="#ff0000"/>
<rect x="96" y="292" width="1" height="75" fill="#ff0000"/>
<rect x="95" y="295" width="3" height="71" fill="#ff0000"/>
<rect x="96" y="296" width="1" height="69" fill="#ff3c00"/>
<rect x="100" y="286" width="1" height="7" fill="#32cd32"/>
<rect x="99" y="289" width="3" height="3" fill="#32cd32"/>
<rect x="104" y="248" width="1" height="54" fill="#ff0000"/>
<rect x="103" y="249" width="3" height="43" fill="#ff0000"/>
<rect x="104" y="250" width="1" height="41" fill="#ff3c00"/>
<rect x="108" y="228" width="1" height="32" fill="#ff0000"/>
<rect x="107" y="232" width="3" height="17" fill="#ff0000"/>
<rect x="108" y="233" width="1" height="15" fill="#ff3c00"/>
<rect x="112" y="222" width="1" height="33" fill="#32cd32"/>
<rect x="111" y="232" width="3" height="12" fill="#32cd32"/>
<rect x="116" y="224" width="1" height="24" fill="#ff0000"/>
<rect x="115" y="231" width="3" height="13" fill="#ff0000"/>
<rect x="116" y="232" width="1" height="11" fill="#ff3c00"/>
<rect x="120" y="224" width="1" height="73" fill="#32cd32"/>
<rect x="119" y="231" width="3" height="64" fill="#32cd32"/>
<rect x="124" y="292" width="1" height="2" fill="#32cd32"/>
<rect x="123" y="292" width="3" height="2" fill="#32cd32"/>
<rect x="128" y="286" width="1" height="46" fill="#32cd32"/>
<rect x="127" y="293" width="3" height="25" fill="#32cd32"/>
<rect x="132" y="295" width="1" height="44" fill="#ff0000"/>
<rect x="131" y="297" width="3" height="21" fill="#ff0000"/>
<rect x="132" y="298" width="1" height="19" fill="#ff3c00"/>
<rect x="136" y="259" width="1" height="57" fill="#ff0000"/>
<rect x="135" y="276" width="3" height="22" fill="#ff0000"/>
<rect x="136" y="277" width="1" height="20" fill="#ff3c00"/>
<rect x="140" y="251" width="1" height="51" fill="#ff0000"/>
<rect x="139" y="265" width="3" height="11" fill="#ff0000"/>
<rect x="140" y="266" width="1" height="9" fill="#ff3c00"/>
<rect x="144" y="265" width="1" height="26" fill="#32cd32"/>
<rect x="143" y="265" width="3" height="11" fill="#32cd32"/>
<rect x="148" y="275" width="1" height="5" fill="#32cd32"/>
<rect x="147" y="275" width="3" height="5" fill="#32cd32"/>
<rect x="152" y="274" width="1" height="48" fill="#32cd32"/>
<rect x="151" y="279" width="3" height="40" fill="#32cd32"/>
<rect x="156" y="306" width="1" height="25" fill="#ff0000"/>
<rect x="155" y="312" width="3" height="6" fill="#ff0000"/>
<rect x="156" y="313" width="1" height="4" fill="#ff3c00"/>
<rect x="160" y="291" width="1" height="27" fill="#ff0000"/>
<rect x="159" y="308" width="3" height="4" fill="#ff0000"/>
<rect x="160" y="309" width="1" height="2" fill="#ff3c00"/>
<rect x="164" y="263" width="1" height="47" fill="#ff0000"/>
<rect x="163" y="272" width="3" height="36" fill="#ff0000"/>
<rect x="164" y="273" width="1" height="34" fill="#ff3c00"/>
<rect x="168" y="256" width="1" height="77" fill="#32cd32"/>
<rect x="167" y="272" width="3" height="56" fill="#32cd32"/>
<rect x="172" y="325" width="1" height="3" fill="#ff0000"/>
<rect x="171" y="326" width="3" height="2" fill="#ff0000"/>
<rect x="176" y="268" width="1" height="65" fill="#ff0000"/>
<rect x="175" y="279" width="3" height="49" fill="#ff0000"/>
<rect x="176" y="280" width="1" height="47" fill="#ff3c00"/>
<rect x="180" y="278" width="1" height="49" fill="#32cd32"/>
<rect x="179" y="279" width="3" height="16" fill="#32cd32"/>
<rect x="184" y="265" width="1" height="42" fill="#ff0000"/>
<rect x="183" y="292" width="3" height="2" fill="#ff0000"/>
<rect x="188" y="283" width="1" height="25" fill="#32cd32"/>
<rect x="187" y="292" width="3" height="10" fill="#32cd32"/>
<rect x="192" y="290" width="1" height="37" fill="#32cd32"/>
<rect x="191" y="301" width="3" height="11" fill="#32cd32"/>
<rect x="196" y="304" width="1" height="4" fill="#32cd32"/>
<rect x="195" y="305" width="3" height="2" fill="#32cd32"/>
<rect x="200" y="282" width="1" height="26" fill="#ff0000"/>
<rect x="199" y="298" width="3" height="10" fill="#ff0000"/>
<rect x="200" y="299" width="1" height="8" fill="#ff3c00"/>
<rect x="204" y="257" width="1" height="55" fill="#ff0000"/>
<rect x="203" y="261" width="3" height="38" fill="#ff0000"/>
<rect x="204" y="262" width="1" height="36" fill="#ff3c00"/>
<rect x="208" y="228" width="1" height="43" fill="#ff0000"/>
<rect x="207" y="241" width="3" height="20" fill="#ff0000"/>
<rect x="208" y="242" width="1" height="18" fill="#ff3c00"/>
<rect x="212" y="237" width="1" height="53" fill="#32cd32"/>
<rect x="211" y="240" width="3" height="45" fill="#32cd32"/>
<rect x="216" y="269" width="1" height="29" fill="#ff0000"/>
<rect x="215" y="274" width="3" height="11" fill="#ff0000"/>
<rect x="216" y="275" width="1" height="9" fill="#ff3c00"/>
<rect x="220" y="270" width="1" height="4" fill="#ff0000"/>
<rect x="219" y="271" width="3" height="2" fill="#ff0000"/>
<rect x="224" y="224" width="1" height="48" fill="#ff0000"/>
<rect x="223" y="237" width="3" height="35" fill="#ff0000"/>
<rect x="224" y="238" width="1" height="33" fill="#ff3c00"/>
<rect x="228" y="233" width="1" height="39" fill="#32cd32"/>
<rect x="227" y="237" width="3" height="19" fill="#32cd32"/>
<rect x="232" y="252" width="1" height="34" fill="#32cd32"/>
<rect x="231" y="256" width="3" height="3" fill="#32cd32"/>
<rect x="236" y="192" width="1" height="70" fill="#ff0000"/>
<rect x="235" y="196" width="3" height="63" fill="#ff0000"/>
<rect x="236" y="197" width="1" height="61" fill="#ff3c00"/>
<rect x="240" y="155" width="1" height="53" fill="#ff0000"/>
<rect x="239" y="155" width="3" height="42" fill="#ff0000"/>
<rect x="240" y="156" width="1" height="40" fill="#ff3c00"/>
<rect x="244" y="155" width="1" height="4" fill="#32cd32"/>
<rect x="243" y="156" width="3" height="2" fill="#32cd32"/>
<rect x="248" y="147" width="1" height="52" fill="#32cd32"/>
<rect x="247" y="157" width="3" height="37" fill="#32cd32"/>
<rect x="252" y="188" width="1" height="48" fill="#32cd32"/>
<rect x="251" y="193" width="3" height="34" fill="#32cd32"/>
<rect x="256" y="197" width="1" height="46" fill="#ff0000"/>
<rect x="255" y="204" width="3" height="23" fill="#ff0000"/>
<rect x="256" y="205" width="1" height="21" fill="#ff3c00"/>
<rect x="260" y="196" width="1" height="47" fill="#32cd32"/>
<rect x="259" y="204" width="3" height="14" fill="#32cd32"/>
<rect x="264" y="206" width="1" height="33" fill="#ff0000"/>
<rect x="263" y="215" width="3" height="3" fill="#ff0000"/>
<rect x="264" y="216" width="1" height="1" fill="#ff3c00"/>
<rect x="268" y="214" width="1" height="6" fill="#32cd32"/>
<rect x="267" y="215" width="3" height="4" fill="#32cd32"/>
<rect x="272" y="182" width="1" height="38" fill="#ff0000"/>
<rect x="271" y="209" width="3" height="11" fill="#ff0000"/>
<rect x="272" y="210" width="1" height="9" fill="#ff3c00"/>
<rect x="276" y="173" width="1" height="39" fill="#ff0000"/>
<rect x="275" y="181" width="3" height="29" fill="#ff0000"/>
<rect x="276" y="182" width="1" height="27" fill="#ff3c00"/>
<rect x="280" y="129" width="1" height="63" fill="#ff0000"/>
<rect x="279" y="139" width="3" height="44" fill="#ff0000"/>
<rect x="280" y="140" width="1" height="42" fill="#ff3c00"/>
<rect x="284" y="118" width="1" height="49" fill="#32cd32"/>
<rect x="283" y="139" width="3" height="15" fill="#32cd32"/>
<rect x="288" y="144" width="1" height="45" fill="#32cd32"/>
<rect x="287" y="153" width="3" height="20" fill="#32cd32"/>
<rect x="292" y="175" width="1" height="5" fill="#32cd32"/>
<rect x="291" y="176" width="3" height="2" fill="#32cd32"/>
<rect x="296" y="166" width="1" height="66" fill="#32cd32"/>
<rect x="295" y="177" width="3" height="39" fill="#32cd32"/>
<rect x="300" y="184" width="1" height="36" fill="#ff0000"/>
<rect x="299" y="187" width="3" height="29" fill="#ff0000"/>
<rect x="300" y="188" width="1" height="27" fill="#ff3c00"/>
<rect x="304" y="168" width="1" height="30" fill="#32cd32"/>
<rect x="303" y="187" width="3" height="6" fill="#32cd32"/>
<rect x="308" y="181" width="1" height="33" fill="#ff0000"/>
<rect x="307" y="186" width="3" height="6" fill="#ff0000"/>
<rect x="308" y="187" width="1" height="4" fill="#ff3c00"/>
<rect x="312" y="170" width="1" height="39" fill="#32cd32"/>
<rect x="311" y="186" width="3" height="17" fill="#32cd32"/>
<rect x="316" y="191" width="1" height="7" fill="#ff0000"/>
<rect x="315" y="192" width="3" height="5" fill="#ff0000"/>
<rect x="316" y="193" width="1" height="3" fill="#ff3c00"/>
<rect x="320" y="184" width="1" height="32" fill="#32cd32"/>
<rect x="319" y="192" width="3" height="3" fill="#32cd32"/>
<rect x="324" y="163" width="1" height="48" fill="#ff0000"/>
<rect x="323" y="169" width="3" height="25" fill="#ff0000"/>
<rect x="324" y="170" width="1" height="23" fill="#ff3c00"/>
<rect x="328" y="168" width="1" height="61" fill="#32cd32"/>
<rect x="327" y="169" width="3" height="54" fill="#32cd32"/>
<rect x="332" y="220" width="1" height="42" fill="#ff0000"/>
<rect x="331" y="220" width="3" height="4" fill="#ff0000"/>
<rect x="332" y="221" width="1" height="2" fill="#ff3c00"/>
<rect x="336" y="204" width="1" height="33" fill="#32cd32"/>
<rect x="335" y="221" width="3" height="12" fill="#32cd32"/>
<rect x="340" y="227" width="1" height="7" fill="#ff0000"/>
<rect x="339" y="227" width="3" height="5" fill="#ff0000"/>
<rect x="340" y="228" width="1" height="3" fill="#ff3c00"/>
<rect x="344" y="196" width="1" height="42" fill="#000"/>
<rect x="343" y="227" width="3" height="1" fill="#000"/>
<rect x="348" y="227" width="1" height="42" fill="#32cd32"/>
<rect x="347" y="227" width="3" height="5" fill="#32cd32"/>
<rect x="352" y="213" width="1" height="55" fill="#32cd32"/>
<rect x="351" y="232" width="3" height="33" fill="#32cd32"/>
<rect x="356" y="251" width="1" height="30" fill="#32cd32"/>
<rect x="355" y="265" width="3" height="7" fill="#32cd32"/>
<rect x="360" y="268" width="1" height="29" fill="#32cd32"/>
<rect x="359" y="271" width="3" height="18" fill="#32cd32"/>
<rect x="364" y="282" width="1" height="7" fill="#ff0000"/>
<rect x="363" y="284" width="3" height="5" fill="#ff0000"/>
<rect x="364" y="285" width="1" height="3" fill="#ff3c00"/>
<rect x="368" y="254" width="1" height="44" fill="#ff0000"/>
<rect x="367" y="257" width="3" height="28" fill="#ff0000"/>
<rect x="368" y="258" width="1" height="26" fill="#ff3c00"/>
<rect x="372" y="235" width="1" height="33" fill="#32cd32"/>
<rect x="371" y="257" width="3" height="2" fill="#32cd32"/>
<rect x="376" y="253" width="1" height="33" fill="#32cd32"/>
<rect x="375" y="259" width="3" height="13" fill="#32cd32"/>
<rect x="380" y="261" width="1" height="68" fill="#32cd32"/>
<rect x="379" y="271" width="3" height="54" fill="#32cd32"/>
<rect x="384" y="276" width="1" height="61" fill="#ff0000"/>
<rect x="383" y="294" width="3" height="31" fill="#ff0000"/>
<rect x="384" y="295" width="1" height="29" fill="#ff3c00"/>
<rect x="388" y="287" width="1" height="6" fill="#ff0000"/>
<rect x="387" y="288" width="3" height="5" fill="#ff0000"/>
<rect x="388" y="289" width="1" height="3" fill="#ff3c00"/>
<rect x="392" y="280" width="1" height="69" fill="#32cd32"/>
<rect x="391" y="288" width="3" height="56" fill="#32cd32"/>
<rect x="396" y="297" width="1" height="50" fill="#ff0000"/>
<rect x="395" y="299" width="3" height="45" fill="#ff0000"/>
<rect x="396" y="300" width="1" height="43" fill="#ff3c00"/>
<rect x="400" y="297" width="1" height="38" fill="#32cd32"/>
<rect x="399" y="299" width="3" height="29" fill="#32cd32"/>
<rect x="404" y="302" width="1" height="28" fill="#ff0000"/>
<rect x="403" y="317" width="3" height="12" fill="#ff0000"/>
<rect x="404" y="318" width="1" height="10" fill="#ff3c00"/>
<rect x="408" y="277" width="1" height="52" fill="#32cd32"/>
<rect x="407" y="317" width="3" height="1" fill="#32cd32"/>
<rect x="412" y="319" width="1" height="6" fill="#32cd32"/>
<rect x="411" y="321" width="3" height="2" fill="#32cd32"/>
<rect x="416" y="291" width="1" height="32" fill="#ff0000"/>
<rect x="415" y="310" width="3" height="13" fill="#ff0000"/>
<rect x="416" y="311" width="1" height="11" fill="#ff3c00"/>
<rect x="420" y="294" width="1" height="44" fill="#32cd32"/>
<rect x="419" y="310" width="3" height="21" fill="#32cd32"/>
<rect x="424" y="268" width="1" height="64" fill="#ff0000"/>
<rect x="423" y="272" width="3" height="59" fill="#ff0000"/>
<rect x="424" y="273" width="1" height="57" fill="#ff3c00"/>
<rect x="428" y="236" width="1" height="38" fill="#ff0000"/>
<rect x="427" y="246" width="3" height="28" fill="#ff0000"/>
<rect x="428" y="247" width="1" height="26" fill="#ff3c00"/>
<rect x="432" y="225" width="1" height="31" fill="#32cd32"/>
<rect x="431" y="246" width="3" height="4" fill="#32cd32"/>
<rect x="436" y="246" width="1" height="4" fill="#ff0000"/>
<rect x="435" y="247" width="3" height="2" fill="#ff0000"/>
<rect x="440" y="209" width="1" height="59" fill="#ff0000"/>
<rect x="439" y="213" width="3" height="35" fill="#ff0000"/>
<rect x="440" y="214" width="1" height="33" fill="#ff3c00"/>
<rect x="444" y="165" width="1" height="62" fill="#ff0000"/>
<rect x="443" y="171" width="3" height="43" fill="#ff0000"/>
<rect x="444" y="172" width="1" height="41" fill="#ff3c00"/>
<rect x="448" y="150" width="1" height="45" fill="#32cd32"/>
<rect x="447" y="171" width="3" height="16" fill="#32cd32"/>
<rect x="452" y="181" width="1" height="35" fill="#32cd32"/>
<rect x="451" y="186" width="3" height="24" fill="#32cd32"/>
<rect x="456" y="182" width="1" height="34" fill="#ff0000"/>
<rect x="455" y="187" width="3" height="23" fill="#ff0000"/>
<rect x="456" y="188" width="1" height="21" fill="#ff3c00"/>
<rect x="460" y="178" width="1" height="10" fill="#ff0000"/>
<rect x="459" y="180" width="3" height="7" fill="#ff0000"/>
<rect x="460" y="181" width="1" height="5" fill="#ff3c00"/>
<rect x="464" y="146" width="1" height="57" fill="#ff0000"/>
<rect x="463" y="153" width="3" height="29" fill="#ff0000"/>
<rect x="464" y="154" width="1" height="27" fill="#ff3c00"/>
<rect x="468" y="138" width="1" height="36" fill="#ff0000"/>
<rect x="467" y="146" width="3" height="8" fill="#ff0000"/>
<rect x="468" y="147" width="1" height="6" fill="#ff3c00"/>
<rect x="472" y="114" width="1" height="38" fill="#ff0000"/>
<rect x="471" y="141" width="3" height="5" fill="#ff0000"/>
<rect x="472" y="142" width="1" height="3" fill="#ff3c00"/>
<rect x="476" y="124" width="1" height="32" fill="#ff0000"/>
<rect x="475" y="131" width="3" height="11" fill="#ff0000"/>
<rect x="476" y="132" width="1" height="9" fill="#ff3c00"/>
<rect x="480" y="129" width="1" height="116" fill="#32cd32"/>
<rect x="479" y="130" width="3" height="113" fill="#32cd32"/>
<rect x="484" y="213" width="1" height="24" fill="#ff0000"/>
<rect x="483" y="221" width="3" height="13" fill="#ff0000"/>
<rect x="484" y="222" width="1" height="11" fill="#ff3c00"/>
<rect x="488" y="197" width="1" height="39" fill="#32cd32"/>
<rect x="487" y="220" width="3" height="13" fill="#32cd32"/>
<rect x="492" y="202" width="1" height="89" fill="#32cd32"/>
<rect x="491" y="232" width="3" height="29" fill="#32cd32"/>
<rect x="496" y="242" width="1" height="40" fill="#ff0000"/>
<rect x="495" y="251" width="3" height="10" fill="#ff0000"/>
<rect x="496" y="252" width="1" height="8" fill="#ff3c00"/>
<rect x="500" y="239" width="1" height="36" fill="#32cd32"/>
<rect x="499" y="251" width="3" height="7" fill="#32cd32"/>
<rect x="504" y="242" width="1" height="42" fill="#32cd32"/>
<rect x="503" y="258" width="3" height="19" fill="#32cd32"/>
<rect x="508" y="267" width="1" height="13" fill="#ff0000"/>
<rect x="507" y="268" width="3" height="12" fill="#ff0000"/>
<rect x="508" y="269" width="1" height="10" fill="#ff3c00"/>
<rect x="512" y="200" width="1" height="70" fill="#ff0000"/>
<rect x="511" y="211" width="3" height="58" fill="#ff0000"/>
<rect x="512" y="212" width="1" height="56" fill="#ff3c00"/>
<rect x="516" y="195" width="1" height="37" fill="#32cd32"/>
<rect x="515" y="210" width="3" height="9" fill="#32cd32"/>
<rect x="520" y="213" width="1" height="49" fill="#32cd32"/>
<rect x="519" y="219" width="3" height="37" fill="#32cd32"/>
<rect x="524" y="203" width="1" height="54" fill="#ff0000"/>
<rect x="523" y="226" width="3" height="30" fill="#ff0000"/>
<rect x="524" y="227" width="1" height="28" fill="#ff3c00"/>
<rect x="528" y="212" width="1" height="46" fill="#32cd32"/>
<rect x="527" y="225" width="3" height="23" fill="#32cd32"/>
<rect x="532" y="245" width="1" height="11" fill="#ff0000"/>
<rect x="531" y="246" width="3" height="10" fill="#ff0000"/>
<rect x="532" y="247" width="1" height="8" fill="#ff3c00"/>
<rect x="536" y="210" width="1" height="42" fill="#ff0000"/>
<rect x="535" y="237" width="3" height="10" fill="#ff0000"/>
<rect x="536" y="238" width="1" height="8" fill="#ff3c00"/>
<rect x="540" y="219" width="1" height="47" fill="#ff0000"/>
<rect x="539" y="222" width="3" height="15" fill="#ff0000"/>
<rect x="540" y="223" width="1" height="13" fill="#ff3c00"/>
<rect x="544" y="179" width="1" height="50" fill="#ff0000"/>
<rect x="543" y="220" width="3" height="3" fill="#ff0000"/>
<rect x="544" y="221" width="1" height="1" fill="#ff3c00"/>
<rect x="548" y="210" width="1" height="56" fill="#32cd32"/>
<rect x="547" y="220" width="3" height="45" fill="#32cd32"/>
<rect x="552" y="220" width="1" height="58" fill="#ff0000"/>
<rect x="551" y="226" width="3" height="40" fill="#ff0000"/>
<rect x="552" y="227" width="1" height="38" fill="#ff3c00"/>
<rect x="556" y="219" width="1" height="12" fill="#32cd32"/>
<rect x="555" y="222" width="3" height="8" fill="#32cd32"/>
<rect x="560" y="215" width="1" height="48" fill="#32cd32"/>
<rect x="559" y="228" width="3" height="15" fill="#32cd32"/>
<rect x="564" y="212" width="1" height="49" fill="#ff0000"/>
<rect x="563" y="231" width="3" height="12" fill="#ff0000"/>
<rect x="564" y="232" width="1" height="10" fill="#ff3c00"/>
<rect x="568" y="213" width="1" height="52" fill="#32cd32"/>
<rect x="567" y="231" width="3" height="31" fill="#32cd32"/>
<rect x="572" y="241" width="1" height="37" fill="#32cd32"/>
<rect x="571" y="260" width="3" height="11" fill="#32cd32"/>
<rect x="576" y="259" width="1" height="27" fill="#ff0000"/>
<rect x="575" y="268" width="3" height="3" fill="#ff0000"/>
<rect x="576" y="269" width="1" height="1" fill="#ff3c00"/>
<rect x="580" y="265" width="1" height="13" fill="#ff0000"/>
<rect x="579" y="265" width="3" height="4" fill="#ff0000"/>
<rect x="580" y="266" width="1" height="2" fill="#ff3c00"/>
<rect x="584" y="256" width="1" height="28" fill="#32cd32"/>
<rect x="583" y="265" width="3" height="15" fill="#32cd32"/>
<rect x="588" y="264" width="1" height="25" fill="#32cd32"/>
<rect x="587" y="280" width="3" height="1" fill="#32cd32"/>
<rect x="592" y="254" width="1" height="63" fill="#32cd32"/>
<rect x="591" y="280" width="3" height="27" fill="#32cd32"/>
<rect x="596" y="272" width="1" height="41" fill="#000"/>
<rect x="595" y="306" width="3" height="1" fill="#000"/>
<rect x="600" y="299" width="1" height="39" fill="#32cd32"/>
<rect x="599" y="306" width="3" height="18" fill="#32cd32"/>
<rect x="604" y="318" width="1" height="19" fill="#ff0000"/>
<rect x="603" y="321" width="3" height="16" fill="#ff0000"/>
<rect x="604" y="322" width="1" height="14" fill="#ff3c00"/>
<rect x="608" y="256" width="1" height="70" fill="#ff0000"/>
<rect x="607" y="270" width="3" height="52" fill="#ff0000"/>
<rect x="608" y="271" width="1" height="50" fill="#ff3c00"/>
<rect x="612" y="262" width="1" height="46" fill="#32cd32"/>
<rect x="611" y="270" width="3" height="17" fill="#32cd32"/>
<rect x="616" y="270" width="1" height="36" fill="#ff0000"/>
<rect x="615" y="278" width="3" height="9" fill="#ff0000"/>
<rect x="616" y="279" width="1" height="7" fill="#ff3c00"/>
<rect x="620" y="237" width="1" height="47" fill="#ff0000"/>
<rect x="619" y="244" width="3" height="34" fill="#ff0000"/>
<rect x="620" y="245" width="1" height="32" fill="#ff3c00"/>
<rect x="624" y="230" width="1" height="41" fill="#32cd32"/>
<rect x="623" y="244" width="3" height="26" fill="#32cd32"/>
<rect x="628" y="262" width="1" height="6" fill="#ff0000"/>
<rect x="627" y="265" width="3" height="3" fill="#ff0000"/>
<rect x="628" y="266" width="1" height="1" fill="#ff3c00"/>
<rect x="632" y="195" width="1" height="74" fill="#ff0000"/>
<rect x="631" y="197" width="3" height="68" fill="#ff0000"/>
<rect x="632" y="198" width="1" height="66" fill="#ff3c00"/>
<rect x="636" y="192" width="1" height="41" fill="#32cd32"/>
<rect x="635" y="197" width="3" height="31" fill="#32cd32"/>
<rect x="640" y="220" width="1" height="95" fill="#32cd32"/>
<rect x="639" y="227" width="3" height="77" fill="#32cd32"/>
<rect x="644" y="299" width="1" height="47" fill="#32cd32"/>
<rect x="643" y="304" width="3" height="26" fill="#32cd32"/>
<rect x="648" y="304" width="1" height="40" fill="#ff0000"/>
<rect x="647" y="307" width="3" height="23" fill="#ff0000"/>
<rect x="648" y="308" width="1" height="21" fill="#ff3c00"/>
<rect x="652" y="299" width="1" height="16" fill="#ff0000"/>
<rect x="651" y="302" width="3" height="13" fill="#ff0000"/>
<rect x="652" y="303" width="1" height="11" fill="#ff3c00"/>
<rect x="656" y="290" width="1" height="30" fill="#32cd32"/>
<rect x="655" y="302" width="3" height="4" fill="#32cd32"/>
<rect x="660" y="273" width="1" height="39" fill="#ff0000"/>
<rect x="659" y="279" width="3" height="27" fill="#ff0000"/>
<rect x="660" y="280" width="1" height="25" fill="#ff3c00"/>
<rect x="664" y="275" width="1" height="27" fill="#32cd32"/>
<rect x="663" y="279" width="3" height="14" fill="#32cd32"/>
<rect x="668" y="272" width="1" height="34" fill="#ff0000"/>
<rect x="667" y="281" width="3" height="12" fill="#ff0000"/>
<rect x="668" y="282" width="1" height="10" fill="#ff3c00"/>
<rect x="672" y="280" width="1" height="53" fill="#32cd32"/>
<rect x="671" y="280" width="3" height="46" fill="#32cd32"/>
<rect x="676" y="317" width="1" height="11" fill="#ff0000"/>
<rect x="675" y="317" width="3" height="11" fill="#ff0000"/>
<rect x="676" y="318" width="1" height="9" fill="#ff3c00"/>
<rect x="680" y="290" width="1" height="42" fill="#ff0000"/>
<rect x="679" y="304" width="3" height="14" fill="#ff0000"/>
<rect x="680" y="305" width="1" height="12" fill="#ff3c00"/>
<rect x="684" y="253" width="1" height="53" fill="#ff0000"/>
<rect x="683" y="273" width="3" height="33" fill="#ff0000"/>
<rect x="684" y="274" width="1" height="31" fill="#ff3c00"/>
<rect x="688" y="219" width="1" height="60" fill="#ff0000"/>
<rect x="687" y="224" width="3" height="51" fill="#ff0000"/>
<rect x="688" y="225" width="1" height="49" fill="#ff3c00"/>
<rect x="692" y="143" width="1" height="84" fill="#ff0000"/>
<rect x="691" y="166" width="3" height="58" fill="#ff0000"/>
<rect x="692" y="167" width="1" height="56" fill="#ff3c00"/>
<rect x="696" y="150" width="1" height="33" fill="#32cd32"/>
<rect x="695" y="166" width="3" height="1" fill="#32cd32"/>
<rect x="700" y="159" width="1" height="12" fill="#ff0000"/>
<rect x="699" y="165" width="3" height="5" fill="#ff0000"/>
<rect x="700" y="166" width="1" height="3" fill="#ff3c00"/>
<rect x="704" y="139" width="1" height="76" fill="#32cd32"/>
<rect x="703" y="164" width="3" height="35" fill="#32cd32"/>
<rect x="708" y="193" width="1" height="60" fill="#32cd32"/>
<rect x="707" y="198" width="3" height="51" fill="#32cd32"/>
<rect x="712" y="238" width="1" height="37" fill="#32cd32"/>
<rect x="711" y="248" width="3" height="17" fill="#32cd32"/>
<rect x="716" y="227" width="1" height="49" fill="#ff0000"/>
<rect x="715" y="253" width="3" height="12" fill="#ff0000"/>
<rect x="716" y="254" width="1" height="10" fill="#ff3c00"/>
<rect x="720" y="208" width="1" height="54" fill="#ff0000"/>
<rect x="719" y="211" width="3" height="42" fill="#ff0000"/>
<rect x="720" y="212" width="1" height="40" fill="#ff3c00"/>
<rect x="724" y="210" width="1" height="6" fill="#32cd32"/>
<rect x="723" y="210" width="3" height="5" fill="#32cd32"/>
<rect x="728" y="206" width="1" height="34" fill="#32cd32"/>
<rect x="727" y="214" width="3" height="18" fill="#32cd32"/>
<rect x="732" y="205" width="1" height="31" fill="#ff0000"/>
<rect x="731" y="215" width="3" height="17" fill="#ff0000"/>
<rect x="732" y="216" width="1" height="15" fill="#ff3c00"/>
<rect x="736" y="212" width="1" height="27" fill="#32cd32"/>
<rect x="735" y="215" width="3" height="7" fill="#32cd32"/>
<rect x="740" y="177" width="1" height="58" fill="#ff0000"/>
<rect x="739" y="208" width="3" height="14" fill="#ff0000"/>
<rect x="740" y="209" width="1" height="12" fill="#ff3c00"/>
<rect x="744" y="185" width="1" height="38" fill="#32cd32"/>
<rect x="743" y="208" width="3" height="6" fill="#32cd32"/>
<rect x="748" y="212" width="1" height="9" fill="#ff0000"/>
<rect x="747" y="217" width="3" height="4" fill="#ff0000"/>
<rect x="748" y="218" width="1" height="2" fill="#ff3c00"/>
<rect x="752" y="197" width="1" height="29" fill="#32cd32"/>
<rect x="751" y="217" width="3" height="3" fill="#32cd32"/>
<rect x="756" y="196" width="1" height="39" fill="#ff0000"/>
<rect x="755" y="211" width="3" height="8" fill="#ff0000"/>
<rect x="756" y="212" width="1" height="6" fill="#ff3c00"/>
<rect x="760" y="206" width="1" height="46" fill="#32cd32"/>
<rect x="759" y="211" width="3" height="31" fill="#32cd32"/>
<rect x="764" y="232" width="1" height="35" fill="#32cd32"/>
<rect x="763" y="241" width="3" height="18" fill="#32cd32"/>
<rect x="768" y="241" width="1" height="23" fill="#ff0000"/>
<rect x="767" y="247" width="3" height="12" fill="#ff0000"/>
<rect x="768" y="248" width="1" height="10" fill="#ff3c00"/>
<rect x="772" y="244" width="1" height="8" fill="#32cd32"/>
<rect x="771" y="247" width="3" height="3" fill="#32cd32"/>
<rect x="776" y="243" width="1" height="55" fill="#32cd32"/>
<rect x="775" y="249" width="3" height="42" fill="#32cd32"/>
<rect x="780" y="234" width="1" height="63" fill="#ff0000"/>
<rect x="779" y="244" width="3" height="47" fill="#ff0000"/>
<rect x="780" y="245" width="1" height="45" fill="#ff3c00"/>
<rect x="784" y="241" width="1" height="42" fill="#32cd32"/>
<rect x="783" y="244" width="3" height="34" fill="#32cd32"/>
<rect x="788" y="183" width="1" height="97" fill="#ff0000"/>
<rect x="787" y="209" width="3" height="69" fill="#ff0000"/>
<rect x="788" y="210" width="1" height="67" fill="#ff3c00"/>
<rect x="792" y="187" width="1" height="46" fill="#ff0000"/>
<rect x="791" y="204" width="3" height="6" fill="#ff0000"/>
<rect x="792" y="205" width="1" height="4" fill="#ff3c00"/>
<rect x="796" y="194" width="1" height="21" fill="#ff0000"/>
<rect x="795" y="201" width="3" height="5" fill="#ff0000"/>
<rect x="796" y="202" width="1" height="3" fill="#ff3c00"/>
<rect x="800" y="193" width="1" height="92" fill="#32cd32"/>
<rect x="799" y="201" width="3" height="76" fill="#32cd32"/>
<rect x="804" y="252" width="1" height="46" fill="#ff0000"/>
<rect x="803" y="268" width="3" height="9" fill="#ff0000"/>
<rect x="804" y="269" width="1" height="7" fill="#ff3c00"/>
<rect x="808" y="224" width="1" height="61" fill="#ff0000"/>
<rect x="807" y="252" width="3" height="15" fill="#ff0000"/>
<rect x="808" y="253" width="1" height="13" fill="#ff3c00"/>
<rect x="812" y="243" width="1" height="39" fill="#32cd32"/>
<rect x="811" y="252" width="3" height="23" fill="#32cd32"/>
<rect x="816" y="248" width="1" height="37" fill="#ff0000"/>
<rect x="815" y="271" width="3" height="2" fill="#ff0000"/>
<rect x="820" y="253" width="1" height="31" fill="#ff0000"/>
<rect x="819" y="254" width="3" height="30" fill="#ff0000"/>
<rect x="820" y="255" width="1" height="28" fill="#ff3c00"/>
<rect x="824" y="197" width="1" height="65" fill="#ff0000"/>
<rect x="823" y="212" width="3" height="42" fill="#ff0000"/>
<rect x="824" y="213" width="1" height="40" fill="#ff3c00"/>
<rect x="828" y="169" width="1" height="48" fill="#ff0000"/>
<rect x="827" y="178" width="3" height="35" fill="#ff0000"/>
<rect x="828" y="179" width="1" height="33" fill="#ff3c00"/>
<rect x="832" y="175" width="1" height="41" fill="#32cd32"/>
<rect x="831" y="178" width="3" height="26" fill="#32cd32"/>
<rect x="836" y="167" width="1" height="45" fill="#ff0000"/>
<rect x="835" y="179" width="3" height="24" fill="#ff0000"/>
<rect x="836" y="180" width="1" height="22" fill="#ff3c00"/>
<rect x="840" y="133" width="1" height="50" fill="#ff0000"/>
<rect x="839" y="134" width="3" height="46" fill="#ff0000"/>
<rect x="840" y="135" width="1" height="44" fill="#ff3c00"/>
<rect x="844" y="133" width="1" height="5" fill="#32cd32"/>
<rect x="843" y="134" width="3" height="1" fill="#32cd32"/>
<rect x="848" y="103" width="1" height="56" fill="#ff0000"/>
<rect x="847" y="105" width="3" height="31" fill="#ff0000"/>
<rect x="848" y="106" width="1" height="29" fill="#ff3c00"/>
<rect x="852" y="67" width="1" height="49" fill="#ff0000"/>
<rect x="851" y="85" width="3" height="22" fill="#ff0000"/>
<rect x="852" y="86" width="1" height="20" fill="#ff3c00"/>
<rect x="856" y="43" width="1" height="59" fill="#ff0000"/>
<rect x="855" y="80" width="3" height="5" fill="#ff0000"/>
<rect x="856" y="81" width="1" height="3" fill="#ff3c00"/>
<rect x="860" y="78" width="1" height="68" fill="#32cd32"/>
<rect x="859" y="79" width="3" height="45" fill="#32cd32"/>
<rect x="864" y="107" width="1" height="56" fill="#32cd32"/>
<rect x="863" y="124" width="3" height="36" fill="#32cd32"/>
<rect x="868" y="149" width="1" height="4" fill="#ff0000"/>
<rect x="867" y="150" width="3" height="2" fill="#ff0000"/>
<rect x="872" y="132" width="1" height="48" fill="#ff0000"/>
<rect x="871" y="142" width="3" height="9" fill="#ff0000"/>
<rect x="872" y="143" width="1" height="7" fill="#ff3c00"/>
<rect x="876" y="112" width="1" height="52" fill="#32cd32"/>
<rect x="875" y="142" width="3" height="5" fill="#32cd32"/>
<rect x="880" y="127" width="1" height="50" fill="#32cd32"/>
<rect x="879" y="146" width="3" height="23" fill="#32cd32"/>
<rect x="884" y="138" width="1" height="43" fill="#32cd32"/>
<rect x="883" y="168" width="3" height="10" fill="#32cd32"/>
<rect x="888" y="163" width="1" height="45" fill="#ff0000"/>
<rect x="887" y="168" width="3" height="11" fill="#ff0000"/>
<rect x="888" y="169" width="1" height="9" fill="#ff3c00"/>
<rect x="892" y="162" width="1" height="5" fill="#ff0000"/>
<rect x="891" y="163" width="3" height="3" fill="#ff0000"/>
<rect x="892" y="164" width="1" height="1" fill="#ff3c00"/>
<rect x="896" y="107" width="1" height="62" fill="#ff0000"/>
<rect x="895" y="146" width="3" height="18" fill="#ff0000"/>
<rect x="896" y="147" width="1" height="16" fill="#ff3c00"/>
<rect x="900" y="114" width="1" height="63" fill="#32cd32"/>
<rect x="899" y="146" width="3" height="19" fill="#32cd32"/>
<rect x="904" y="163" width="1" height="78" fill="#32cd32"/>
<rect x="903" y="165" width="3" height="65" fill="#32cd32"/>
<rect x="908" y="208" width="1" height="53" fill="#32cd32"/>
<rect x="907" y="230" width="3" height="1" fill="#32cd32"/>
<rect x="912" y="191" width="1" height="49" fill="#ff0000"/>
<rect x="911" y="212" width="3" height="18" fill="#ff0000"/>
<rect x="912" y="213" width="1" height="16" fill="#ff3c00"/>
<rect x="916" y="205" width="1" height="4" fill="#32cd32"/>
<rect x="915" y="205" width="3" height="4" fill="#32cd32"/>
<rect x="920" y="190" width="1" height="30" fill="#ff0000"/>
<rect x="919" y="204" width="3" height="5" fill="#ff0000"/>
<rect x="920" y="205" width="1" height="3" fill="#ff3c00"/>
<rect x="924" y="176" width="1" height="51" fill="#ff0000"/>
<rect x="923" y="179" width="3" height="25" fill="#ff0000"/>
<rect x="924" y="180" width="1" height="23" fill="#ff3c00"/>
</g>
<rect x="1166" y="106" width="2" height="2" fill="#ff0000" />
<rect x="1166" y="172" width="2" height="2" fill="#00ff7f" />
<rect x="1166" y="222" width="2" height="2" fill="#0000ff" />
<rect x="1166" y="271" width="2" height="2" fill="#0000ff" />
<rect x="1167" y="49" width="2" height="1" fill="#000" />
<text x="1172" y="52.5" font-size="10" fill="#000" textLength="33" lengthAdjust="spacingAndGlyphs" >0.94520</text>
<rect x="1167" y="82" width="2" height="1" fill="#000" />
<text x="1172" y="85.5" font-size="10" fill="#000" textLength="33" lengthAdjust="spacingAndGlyphs" >0.94120</text>
<rect x="1167" y="115" width="2" height="1" fill="#000" />
<text x="1172" y="118.5" font-size="10" fill="#000" textLength="33" lengthAdjust="spacingAndGlyphs" >0.93710</text>
<rect x="1167" y="148" width="2" height="1" fill="#000" />
<text x="1172" y="151.5" font-size="10" fill="#000" textLength="33" lengthAdjust="spacingAndGlyphs" >0.93310</text>
<rect x="1167" y="181" width="2" height="1" fill="#000" />
<text x="1172" y="184.5" font-size="10" fill="#000" textLength="33" lengthAdjust="spacingAndGlyphs" >0.92910</text>
<rect x="1167" y="214" width="2" height="1" fill="#000" />
<text x="1172" y="217.5" font-size="10" fill="#000" textLength="33" lengthAdjust="spacingAndGlyphs" >0.92510</text>
<rect x="1167" y="247" width="2" height="1" fill="#000" />
<text x="1172" y="250.5" font-size="10" fill="#000" textLength="33" lengthAdjust="spacingAndGlyphs" >0.92100</text>
<rect x="1167" y="280" width="2" height="1" fill="#000" />
<text x="1172" y="283.5" font-size="10" fill="#000" textLength="33" lengthAdjust="spacingAndGlyphs" >0.91700</text>
<rect x="1167" y="313" width="2" height="1" fill="#000" />
<text x="1172" y="316.5" font-size="10" fill="#000" textLength="33" lengthAdjust="spacingAndGlyphs" >0.91300</text>
<rect x="1167" y="346" width="2" height="1" fill="#000" />
<text x="1172" y="349.5" font-size="10" fill="#000" textLength="33" lengthAdjust="spacingAndGlyphs" >0.90890</text>
<rect x="1167" y="379" width="2" height="1" fill="#000" />
<text x="1172" y="382.5" font-size="10" fill="#000" textLength="33" lengthAdjust="spacingAndGlyphs" >0.90490</text>
<rect x="1167" y="412" width="2" height="1" fill="#000" />
<text x="1172" y="415.5" font-size="10" fill="#000" textLength="33" lengthAdjust="spacingAndGlyphs" >0.90090</text>
<rect x="1168" y="174" width="38" height="11" fill="#000" />
<text x="1172" y="182.5" font-size="10" fill="#fff" textLength="33" lengthAdjust="spacingAndGlyphs" >0.92940</text>
<rect x="1168" y="101" width="38" height="11" fill="#ff0000" />
<text x="1172" y="109.5" font-size="10" fill="#fff" textLength="33" lengthAdjust="spacingAndGlyphs" >0.93807</text>
<rect x="1168" y="167" width="38" height="11" fill="#00ff7f" />
<text x="1172" y="175.5" font-size="10" fill="#fff" textLength="33" lengthAdjust="spacingAndGlyphs" >0.93014</text>
<rect x="1168" y="217" width="38" height="11" fill="#0000ff" />
<text x="1172" y="225.5" font-size="10" fill="#fff" textLength="33" lengthAdjust="spacingAndGlyphs" >0.92403</text>
<rect x="1168" y="266" width="38" height="11" fill="#0000ff" />
<text x="1172" y="274.5" font-size="10" fill="#fff" textLength="33" lengthAdjust="spacingAndGlyphs" >0.91800</text>
<g clip-path="url(#cMacd)">
<rect x="3" y="437" width="3" height="22" fill="#c0c0c0"/>
<rect x="7" y="441" width="3" height="18" fill="#c0c0c0"/>
<rect x="11" y="442" width="3" height="17" fill="#c0c0c0"/>
<rect x="15" y="446" width="3" height="13" fill="#c0c0c0"/>
<rect x="19" y="447" width="3" height="12" fill="#c0c0c0"/>
<rect x="23" y="446" width="3" height="13" fill="#c0c0c0"/>
<rect x="27" y="447" width="3" height="12" fill="#c0c0c0"/>
<rect x="31" y="447" width="3" height="12" fill="#c0c0c0"/>
<rect x="35" y="446" width="3" height="13" fill="#c0c0c0"/>
<rect x="39" y="448" width="3" height="11" fill="#c0c0c0"/>
<rect x="43" y="448" width="3" height="11" fill="#c0c0c0"/>
<rect x="47" y="448" width="3" height="11" fill="#c0c0c0"/>
<rect x="51" y="448" width="3" height="11" fill="#c0c0c0"/>
<rect x="55" y="451" width="3" height="8" fill="#c0c0c0"/>
<rect x="59" y="455" width="3" height="4" fill="#c0c0c0"/>
<rect x="63" y="459" width="3" height="3" fill="#c0c0c0"/>
<rect x="67" y="459" width="3" height="10" fill="#c0c0c0"/>
<rect x="71" y="459" width="3" height="15" fill="#c0c0c0"/>
<rect x="75" y="459" width="3" height="19" fill="#c0c0c0"/>
<rect x="79" y="459" width="3" height="23" fill="#c0c0c0"/>
<rect x="83" y="459" width="3" height="26" fill="#c0c0c0"/>
<rect x="87" y="459" width="3" height="27" fill="#c0c0c0"/>
<rect x="91" y="459" width="3" height="27" fill="#c0c0c0"/>
<rect x="95" y="459" width="3" height="21" fill="#c0c0c0"/>
<rect x="99" y="459" width="3" height="16" fill="#c0c0c0"/>
<rect x="103" y="459" width="3" height="8" fill="#c0c0c0"/>
<rect x="107" y="458" width="3" height="1" fill="#c0c0c0"/>
<rect x="111" y="453" width="3" height="6" fill="#c0c0c0"/>
<rect x="115" y="448" width="3" height="11" fill="#c0c0c0"/>
<rect x="119" y="450" width="3" height="9" fill="#c0c0c0"/>
<rect x="123" y="451" width="3" height="8" fill="#c0c0c0"/>
<rect x="127" y="454" width="3" height="5" fill="#c0c0c0"/>
<rect x="131" y="455" width="3" height="4" fill="#c0c0c0"/>
<rect x="135" y="454" width="3" height="5" fill="#c0c0c0"/>
<rect x="139" y="452" width="3" height="7" fill="#c0c0c0"/>
<rect x="143" y="452" width="3" height="7" fill="#c0c0c0"/>
<rect x="147" y="452" width="3" height="7" fill="#c0c0c0"/>
<rect x="151" y="455" width="3" height="4" fill="#c0c0c0"/>
<rect x="155" y="457" width="3" height="2" fill="#c0c0c0"/>
<rect x="159" y="459" width="3" height="1" fill="#c0c0c0"/>
<rect x="163" y="457" width="3" height="2" fill="#c0c0c0"/>
<rect x="167" y="459" width="3" height="2" fill="#c0c0c0"/>
<rect x="171" y="459" width="3" height="4" fill="#c0c0c0"/>
<rect x="175" y="459" width="3" height="2" fill="#c0c0c0"/>
<rect x="179" y="459" width="3" height="2" fill="#c0c0c0"/>
<rect x="183" y="459" width="3" height="1" fill="#c0c0c0"/>
<rect x="187" y="459" width="3" height="2" fill="#c0c0c0"/>
<rect x="191" y="459" width="3" height="3" fill="#c0c0c0"/>
<rect x="195" y="459" width="3" height="3" fill="#c0c0c0"/>
<rect x="199" y="459" width="3" height="3" fill="#c0c0c0"/>
<rect x="203" y="457" width="3" height="2" fill="#c0c0c0"/>
<rect x="207" y="453" width="3" height="6" fill="#c0c0c0"/>
<rect x="211" y="453" width="3" height="6" fill="#c0c0c0"/>
<rect x="215" y="453" width="3" height="6" fill="#c0c0c0"/>
<rect x="219" y="452" width="3" height="7" fill="#c0c0c0"/>
<rect x="223" y="449" width="3" height="10" fill="#c0c0c0"/>
<rect x="227" y="448" width="3" height="11" fill="#c0c0c0"/>
<rect x="231" y="448" width="3" height="11" fill="#c0c0c0"/>
<rect x="235" y="443" width="3" height="16" fill="#c0c0c0"/>
<rect x="239" y="435" width="3" height="24" fill="#c0c0c0"/>
<rect x="243" y="430" width="3" height="29" fill="#c0c0c0"/>
<rect x="247" y="429" width="3" height="30" fill="#c0c0c0"/>
<rect x="251" y="431" width="3" height="28" fill="#c0c0c0"/>
<rect x="255" y="432" width="3" height="27" fill="#c0c0c0"/>
<rect x="259" y="434" width="3" height="25" fill="#c0c0c0"/>
<rect x="263" y="435" width="3" height="24" fill="#c0c0c0"/>
<rect x="267" y="437" width="3" height="22" fill="#c0c0c0"/>
<rect x="271" y="437" width="3" height="22" fill="#c0c0c0"/>
<rect x="275" y="436" width="3" height="23" fill="#c0c0c0"/>
<rect x="279" y="432" width="3" height="27" fill="#c0c0c0"/>
<rect x="283" y="430" width="3" height="29" fill="#c0c0c0"/>
<rect x="287" y="430" width="3" height="29" fill="#c0c0c0"/>
<rect x="291" y="431" width="3" height="28" fill="#c0c0c0"/>
<rect x="295" y="435" width="3" height="24" fill="#c0c0c0"/>
<rect x="299" y="437" width="3" height="22" fill="#c0c0c0"/>
<rect x="303" y="438" width="3" height="21" fill="#c0c0c0"/>
<rect x="307" y="439" width="3" height="20" fill="#c0c0c0"/>
<rect x="311" y="442" width="3" height="17" fill="#c0c0c0"/>
<rect x="315" y="443" width="3" height="16" fill="#c0c0c0"/>
<rect x="319" y="444" width="3" height="15" fill="#c0c0c0"/>
<rect x="323" y="444" width="3" height="15" fill="#c0c0c0"/>
<rect x="327" y="447" width="3" height="12" fill="#c0c0c0"/>
<rect x="331" y="450" width="3" height="9" fill="#c0c0c0"/>
<rect x="335" y="454" width="3" height="5" fill="#c0c0c0"/>
<rect x="339" y="456" width="3" height="3" fill="#c0c0c0"/>
<rect x="343" y="458" width="3" height="1" fill="#c0c0c0"/>
<rect x="347" y="459" width="3" height="2" fill="#c0c0c0"/>
<rect x="351" y="459" width="3" height="6" fill="#c0c0c0"/>
<rect x="355" y="459" width="3" height="10" fill="#c0c0c0"/>
<rect x="359" y="459" width="3" height="14" fill="#c0c0c0"/>
<rect x="363" y="459" width="3" height="17" fill="#c0c0c0"/>
<rect x="367" y="459" width="3" height="17" fill="#c0c0c0"/>
<rect x="371" y="459" width="3" height="16" fill="#c0c0c0"/>
<rect x="375" y="459" width="3" height="17" fill="#c0c0c0"/>
<rect x="379" y="459" width="3" height="22" fill="#c0c0c0"/>
<rect x="383" y="459" width="3" height="23" fill="#c0c0c0"/>
<rect x="387" y="459" width="3" height="23" fill="#c0c0c0"/>
<rect x="391" y="459" width="3" height="27" fill="#c0c0c0"/>
<rect x="395" y="459" width="3" height="27" fill="#c0c0c0"/>
<rect x="399" y="459" width="3" height="28" fill="#c0c0c0"/>
<rect x="403" y="459" width="3" height="28" fill="#c0c0c0"/>
<rect x="407" y="459" width="3" height="28" fill="#c0c0c0"/>
<rect x="411" y="459" width="3" height="28" fill="#c0c0c0"/>
<rect x="415" y="459" width="3" height="27" fill="#c0c0c0"/>
<rect x="419" y="459" width="3" height="27" fill="#c0c0c0"/>
<rect x="423" y="459" width="3" height="22" fill="#c0c0c0"/>
<rect x="427" y="459" width="3" height="16" fill="#c0c0c0"/>
<rect x="431" y="459" width="3" height="11" fill="#c0c0c0"/>
<rect x="435" y="459" width="3" height="7" fill="#c0c0c0"/>
<rect x="439" y="459" width="3" height="1" fill="#c0c0c0"/>
<rect x="443" y="451" width="3" height="8" fill="#c0c0c0"/>
<rect x="447" y="446" width="3" height="13" fill="#c0c0c0"/>
<rect x="451" y="444" width="3" height="15" fill="#c0c0c0"/>
<rect x="455" y="441" width="3" height="18" fill="#c0c0c0"/>
<rect x="459" y="438" width="3" height="21" fill="#c0c0c0"/>
<rect x="463" y="434" width="3" height="25" fill="#c0c0c0"/>
<rect x="467" y="430" width="3" height="29" fill="#c0c0c0"/>
<rect x="471" y="427" width="3" height="32" fill="#c0c0c0"/>
<rect x="475" y="424" width="3" height="35" fill="#c0c0c0"/>
<rect x="479" y="432" width="3" height="27" fill="#c0c0c0"/>
<rect x="483" y="436" width="3" height="23" fill="#c0c0c0"/>
<rect x="487" y="441" width="3" height="18" fill="#c0c0c0"/>
<rect x="491" y="447" width="3" height="12" fill="#c0c0c0"/>
<rect x="495" y="451" width="3" height="8" fill="#c0c0c0"/>
<rect x="499" y="455" width="3" height="4" fill="#c0c0c0"/>
<rect x="503" y="459" width="3" height="2" fill="#c0c0c0"/>
<rect x="507" y="459" width="3" height="5" fill="#c0c0c0"/>
<rect x="511" y="459" width="3" height="2" fill="#c0c0c0"/>
<rect x="515" y="459" width="3" height="1" fill="#c0c0c0"/>
<rect x="519" y="459" width="3" height="3" fill="#c0c0c0"/>
<rect x="523" y="459" width="3" height="2" fill="#c0c0c0"/>
<rect x="527" y="459" width="3" height="3" fill="#c0c0c0"/>
<rect x="531" y="459" width="3" height="4" fill="#c0c0c0"/>
<rect x="535" y="459" width="3" height="4" fill="#c0c0c0"/>
<rect x="539" y="459" width="3" height="2" fill="#c0c0c0"/>
<rect x="543" y="459" width="3" height="1" fill="#c0c0c0"/>
<rect x="547" y="459" width="3" height="4" fill="#c0c0c0"/>
<rect x="551" y="459" width="3" height="2" fill="#c0c0c0"/>
<rect x="555" y="459" width="3" height="2" fill="#c0c0c0"/>
<rect x="559" y="459" width="3" height="2" fill="#c0c0c0"/>
<rect x="563" y="459" width="3" height="2" fill="#c0c0c0"/>
<rect x="567" y="459" width="3" height="4" fill="#c0c0c0"/>
<rect x="571" y="459" width="3" height="6" fill="#c0c0c0"/>
<rect x="575" y="459" width="3" height="8" fill="#c0c0c0"/>
<rect x="579" y="459" width="3" height="9" fill="#c0c0c0"/>
<rect x="583" y="459" width="3" height="11" fill="#c0c0c0"/>
<rect x="587" y="459" width="3" height="12" fill="#c0c0c0"/>
<rect x="591" y="459" width="3" height="15" fill="#c0c0c0"/>
<rect x="595" y="459" width="3" height="18" fill="#c0c0c0"/>
<rect x="599" y="459" width="3" height="21" fill="#c0c0c0"/>
<rect x="603" y="459" width="3" height="22" fill="#c0c0c0"/>
<rect x="607" y="459" width="3" height="20" fill="#c0c0c0"/>
<rect x="611" y="459" width="3" height="18" fill="#c0c0c0"/>
<rect x="615" y="459" width="3" height="17" fill="#c0c0c0"/>
<rect x="619" y="459" width="3" height="12" fill="#c0c0c0"/>
<rect x="623" y="459" width="3" height="11" fill="#c0c0c0"/>
<rect x="627" y="459" width="3" height="9" fill="#c0c0c0"/>
<rect x="631" y="459" width="3" height="2" fill="#c0c0c0"/>
<rect x="635" y="457" width="3" height="2" fill="#c0c0c0"/>
<rect x="639" y="459" width="3" height="3" fill="#c0c0c0"/>
<rect x="643" y="459" width="3" height="8" fill="#c0c0c0"/>
<rect x="647" y="459" width="3" height="10" fill="#c0c0c0"/>
<rect x="651" y="459" width="3" height="12" fill="#c0c0c0"/>
<rect x="655" y="459" width="3" height="13" fill="#c0c0c0"/>
<rect x="659" y="459" width="3" height="11" fill="#c0c0c0"/>
<rect x="663" y="459" width="3" height="11" fill="#c0c0c0"/>
<rect x="667" y="459" width="3" height="10" fill="#c0c0c0"/>
<rect x="671" y="459" width="3" height="13" fill="#c0c0c0"/>
<rect x="675" y="459" width="3" height="14" fill="#c0c0c0"/>
<rect x="679" y="459" width="3" height="14" fill="#c0c0c0"/>
<rect x="683" y="459" width="3" height="11" fill="#c0c0c0"/>
<rect x="687" y="459" width="3" height="4" fill="#c0c0c0"/>
<rect x="691" y="452" width="3" height="7" fill="#c0c0c0"/>
<rect x="695" y="445" width="3" height="14" fill="#c0c0c0"/>
<rect x="699" y="439" width="3" height="20" fill="#c0c0c0"/>
<rect x="703" y="437" width="3" height="22" fill="#c0c0c0"/>
<rect x="707" y="440" width="3" height="19" fill="#c0c0c0"/>
<rect x="711" y="444" width="3" height="15" fill="#c0c0c0"/>
<rect x="715" y="446" width="3" height="13" fill="#c0c0c0"/>
<rect x="719" y="445" width="3" height="14" fill="#c0c0c0"/>
<rect x="723" y="444" width="3" height="15" fill="#c0c0c0"/>
<rect x="727" y="445" width="3" height="14" fill="#c0c0c0"/>
<rect x="731" y="445" width="3" height="14" fill="#c0c0c0"/>
<rect x="735" y="445" width="3" height="14" fill="#c0c0c0"/>
<rect x="739" y="445" width="3" height="14" fill="#c0c0c0"/>
<rect x="743" y="445" width="3" height="14" fill="#c0c0c0"/>
<rect x="747" y="445" width="3" height="14" fill="#c0c0c0"/>
<rect x="751" y="446" width="3" height="13" fill="#c0c0c0"/>
<rect x="755" y="446" width="3" height="13" fill="#c0c0c0"/>
<rect x="759" y="449" width="3" height="10" fill="#c0c0c0"/>
<rect x="763" y="452" width="3" height="7" fill="#c0c0c0"/>
<rect x="767" y="454" width="3" height="5" fill="#c0c0c0"/>
<rect x="771" y="456" width="3" height="3" fill="#c0c0c0"/>
<rect x="775" y="459" width="3" height="3" fill="#c0c0c0"/>
<rect x="779" y="459" width="3" height="3" fill="#c0c0c0"/>
<rect x="783" y="459" width="3" height="6" fill="#c0c0c0"/>
<rect x="787" y="459" width="3" height="2" fill="#c0c0c0"/>
<rect x="791" y="457" width="3" height="2" fill="#c0c0c0"/>
<rect x="795" y="454" width="3" height="5" fill="#c0c0c0"/>
<rect x="799" y="458" width="3" height="1" fill="#c0c0c0"/>
<rect x="803" y="459" width="3" height="3" fill="#c0c0c0"/>
<rect x="807" y="459" width="3" height="3" fill="#c0c0c0"/>
<rect x="811" y="459" width="3" height="6" fill="#c0c0c0"/>
<rect x="815" y="459" width="3" height="7" fill="#c0c0c0"/>
<rect x="819" y="459" width="3" height="7" fill="#c0c0c0"/>
<rect x="823" y="459" width="3" height="3" fill="#c0c0c0"/>
<rect x="827" y="455" width="3" height="4" fill="#c0c0c0"/>
<rect x="831" y="453" width="3" height="6" fill="#c0c0c0"/>
<rect x="835" y="449" width="3" height="10" fill="#c0c0c0"/>
<rect x="839" y="442" width="3" height="17" fill="#c0c0c0"/>
<rect x="843" y="437" width="3" height="22" fill="#c0c0c0"/>
<rect x="847" y="431" width="3" height="28" fill="#c0c0c0"/>
<rect x="851" y="425" width="3" height="34" fill="#c0c0c0"/>
<rect x="855" y="420" width="3" height="39" fill="#c0c0c0"/>
<rect x="859" y="421" width="3" height="38" fill="#c0c0c0"/>
<rect x="863" y="424" width="3" height="35" fill="#c0c0c0"/>
<rect x="867" y="427" width="3" height="32" fill="#c0c0c0"/>
<rect x="871" y="428" width="3" height="31" fill="#c0c0c0"/>
<rect x="875" y="430" width="3" height="29" fill="#c0c0c0"/>
<rect x="879" y="434" width="3" height="25" fill="#c0c0c0"/>
<rect x="883" y="438" width="3" height="21" fill="#c0c0c0"/>
<rect x="887" y="441" width="3" height="18" fill="#c0c0c0"/>
<rect x="891" y="442" width="3" height="17" fill="#c0c0c0"/>
<rect x="895" y="443" width="3" height="16" fill="#c0c0c0"/>
<rect x="899" y="444" width="3" height="15" fill="#c0c0c0"/>
<rect x="903" y="452" width="3" height="7" fill="#c0c0c0"/>
<rect x="907" y="457" width="3" height="2" fill="#c0c0c0"/>
<rect x="911" y="459" width="3" height="2" fill="#c0c0c0"/>
<rect x="915" y="459" width="3" height="4" fill="#c0c0c0"/>
<rect x="919" y="459" width="3" height="5" fill="#c0c0c0"/>
<rect x="923" y="459" width="3" height="4" fill="#c0c0c0"/>
<path fill="#ff0000" d="M4 422h1v1h-1zM5 423h1v1h-1zM6 424h1v1h-1zM7 425h1v1h-1zM8 426h1v1h-1zM9 427h1v1h-1zM875 427h7v1h-7zM10 428h1v1h-1zM873 428h2v1h-2zM882 428h4v1h-4zM11 429h1v1h-1zM871 429h2v1h-2zM886 429h3v1h-3zM12 430h1v1h-1zM869 430h2v1h-2zM889 430h1v1h-1zM13 431h1v1h-1zM868 431h1v1h-1zM890 431h2v1h-2zM14 432h2v1h-2zM866 432h2v1h-2zM892 432h1v1h-1zM16 433h1v1h-1zM270 433h8v1h-8zM286 433h8v1h-8zM865 433h1v1h-1zM893 433h2v1h-2zM17 434h1v1h-1zM266 434h4v1h-4zM278 434h8v1h-8zM294 434h16v1h-16zM482 434h11v1h-11zM864 434h1v1h-1zM895 434h2v1h-2zM18 435h2v1h-2zM263 435h3v1h-3zM310 435h4v1h-4zM479 435h3v1h-3zM493 435h2v1h-2zM862 435h2v1h-2zM897 435h2v1h-2zM20 436h1v1h-1zM261 436h2v1h-2zM314 436h3v1h-3zM477 436h2v1h-2zM495 436h2v1h-2zM861 436h1v1h-1zM899 436h2v1h-2zM21 437h1v1h-1zM258 437h3v1h-3zM317 437h2v1h-2zM476 437h1v1h-1zM497 437h2v1h-2zM860 437h1v1h-1zM901 437h1v1h-1zM22 438h2v1h-2zM256 438h2v1h-2zM319 438h3v1h-3zM475 438h1v1h-1zM499 438h2v1h-2zM859 438h1v1h-1zM902 438h2v1h-2zM24 439h1v1h-1zM254 439h2v1h-2zM322 439h3v1h-3zM474 439h1v1h-1zM501 439h1v1h-1zM858 439h1v1h-1zM904 439h1v1h-1zM25 440h2v1h-2zM253 440h1v1h-1zM325 440h2v1h-2zM473 440h1v1h-1zM502 440h2v1h-2zM858 440h1v1h-1zM905 440h1v1h-1zM27 441h2v1h-2zM251 441h2v1h-2zM327 441h2v1h-2zM472 441h1v1h-1zM504 441h1v1h-1zM857 441h1v1h-1zM906 441h2v1h-2zM29 442h1v1h-1zM249 442h2v1h-2zM329 442h2v1h-2zM471 442h1v1h-1zM505 442h1v1h-1zM856 442h1v1h-1zM908 442h1v1h-1zM30 443h2v1h-2zM248 443h1v1h-1zM331 443h2v1h-2zM470 443h1v1h-1zM506 443h1v1h-1zM726 443h8v1h-8zM855 443h1v1h-1zM909 443h1v1h-1zM32 444h5v1h-5zM246 444h2v1h-2zM333 444h2v1h-2zM469 444h1v1h-1zM507 444h1v1h-1zM723 444h3v1h-3zM734 444h8v1h-8zM854 444h1v1h-1zM910 444h1v1h-1zM37 445h2v1h-2zM245 445h1v1h-1zM335 445h2v1h-2zM468 445h1v1h-1zM508 445h1v1h-1zM721 445h2v1h-2zM742 445h16v1h-16zM854 445h1v1h-1zM911 445h1v1h-1zM39 446h7v1h-7zM243 446h2v1h-2zM337 446h2v1h-2zM467 446h1v1h-1zM509 446h1v1h-1zM719 446h2v1h-2zM758 446h8v1h-8zM853 446h1v1h-1zM912 446h1v1h-1zM46 447h8v1h-8zM241 447h2v1h-2zM339 447h2v1h-2zM466 447h1v1h-1zM510 447h1v1h-1zM717 447h2v1h-2zM766 447h3v1h-3zM852 447h1v1h-1zM913 447h1v1h-1zM54 448h4v1h-4zM240 448h1v1h-1zM341 448h2v1h-2zM466 448h1v1h-1zM511 448h1v1h-1zM716 448h1v1h-1zM769 448h2v1h-2zM851 448h1v1h-1zM914 448h2v1h-2zM58 449h4v1h-4zM238 449h2v1h-2zM343 449h2v1h-2zM465 449h1v1h-1zM512 449h1v1h-1zM714 449h2v1h-2zM771 449h3v1h-3zM850 449h1v1h-1zM916 449h1v1h-1zM62 450h3v1h-3zM237 450h1v1h-1zM345 450h2v1h-2zM464 450h1v1h-1zM513 450h1v1h-1zM713 450h1v1h-1zM774 450h3v1h-3zM849 450h1v1h-1zM917 450h1v1h-1zM65 451h1v1h-1zM235 451h2v1h-2zM347 451h2v1h-2zM463 451h1v1h-1zM514 451h2v1h-2zM712 451h1v1h-1zM777 451h2v1h-2zM848 451h1v1h-1zM918 451h2v1h-2zM66 452h2v1h-2zM142 452h8v1h-8zM233 452h2v1h-2zM349 452h2v1h-2zM462 452h1v1h-1zM516 452h1v1h-1zM710 452h2v1h-2zM779 452h2v1h-2zM847 452h1v1h-1zM920 452h1v1h-1zM68 453h1v1h-1zM138 453h4v1h-4zM150 453h4v1h-4zM230 453h3v1h-3zM351 453h2v1h-2zM461 453h1v1h-1zM517 453h1v1h-1zM709 453h1v1h-1zM781 453h2v1h-2zM846 453h1v1h-1zM921 453h2v1h-2zM69 454h1v1h-1zM136 454h2v1h-2zM154 454h8v1h-8zM227 454h3v1h-3zM353 454h1v1h-1zM460 454h1v1h-1zM518 454h2v1h-2zM708 454h1v1h-1zM783 454h2v1h-2zM845 454h1v1h-1zM923 454h2v1h-2zM70 455h2v1h-2zM134 455h2v1h-2zM162 455h8v1h-8zM225 455h2v1h-2zM354 455h2v1h-2zM459 455h1v1h-1zM520 455h1v1h-1zM706 455h2v1h-2zM785 455h2v1h-2zM843 455h2v1h-2zM72 456h1v1h-1zM133 456h1v1h-1zM170 456h4v1h-4zM222 456h3v1h-3zM356 456h1v1h-1zM458 456h1v1h-1zM521 456h2v1h-2zM705 456h1v1h-1zM787 456h3v1h-3zM841 456h2v1h-2zM73 457h1v1h-1zM131 457h2v1h-2zM174 457h4v1h-4zM218 457h4v1h-4zM357 457h1v1h-1zM458 457h1v1h-1zM523 457h2v1h-2zM704 457h1v1h-1zM790 457h4v1h-4zM839 457h2v1h-2zM74 458h2v1h-2zM129 458h2v1h-2zM178 458h4v1h-4zM210 458h8v1h-8zM358 458h2v1h-2zM457 458h1v1h-1zM525 458h2v1h-2zM703 458h1v1h-1zM794 458h8v1h-8zM837 458h2v1h-2zM76 459h1v1h-1zM128 459h1v1h-1zM182 459h8v1h-8zM206 459h4v1h-4zM360 459h1v1h-1zM456 459h1v1h-1zM527 459h3v1h-3zM702 459h1v1h-1zM802 459h4v1h-4zM834 459h3v1h-3zM77 460h1v1h-1zM127 460h1v1h-1zM190 460h16v1h-16zM361 460h1v1h-1zM455 460h1v1h-1zM530 460h4v1h-4zM701 460h1v1h-1zM806 460h16v1h-16zM826 460h8v1h-8zM78 461h2v1h-2zM126 461h1v1h-1zM362 461h2v1h-2zM454 461h1v1h-1zM534 461h44v1h-44zM700 461h1v1h-1zM822 461h4v1h-4zM80 462h1v1h-1zM125 462h1v1h-1zM364 462h1v1h-1zM454 462h1v1h-1zM578 462h4v1h-4zM698 462h2v1h-2zM81 463h1v1h-1zM124 463h1v1h-1zM365 463h1v1h-1zM453 463h1v1h-1zM582 463h4v1h-4zM697 463h1v1h-1zM82 464h1v1h-1zM122 464h2v1h-2zM366 464h2v1h-2zM452 464h1v1h-1zM586 464h3v1h-3zM696 464h1v1h-1zM83 465h1v1h-1zM121 465h1v1h-1zM368 465h1v1h-1zM451 465h1v1h-1zM589 465h2v1h-2zM650 465h8v1h-8zM694 465h2v1h-2zM84 466h1v1h-1zM120 466h1v1h-1zM369 466h2v1h-2zM450 466h1v1h-1zM591 466h3v1h-3zM646 466h4v1h-4zM658 466h8v1h-8zM693 466h1v1h-1zM85 467h1v1h-1zM119 467h1v1h-1zM371 467h2v1h-2zM449 467h1v1h-1zM594 467h3v1h-3zM642 467h4v1h-4zM666 467h4v1h-4zM691 467h2v1h-2zM86 468h1v1h-1zM118 468h1v1h-1zM373 468h2v1h-2zM448 468h1v1h-1zM597 468h2v1h-2zM639 468h3v1h-3zM670 468h4v1h-4zM689 468h2v1h-2zM87 469h1v1h-1zM117 469h1v1h-1zM375 469h2v1h-2zM447 469h1v1h-1zM599 469h2v1h-2zM637 469h2v1h-2zM674 469h4v1h-4zM686 469h3v1h-3zM88 470h1v1h-1zM116 470h1v1h-1zM377 470h2v1h-2zM446 470h1v1h-1zM601 470h1v1h-1zM636 470h1v1h-1zM678 470h8v1h-8zM89 471h1v1h-1zM115 471h1v1h-1zM379 471h2v1h-2zM446 471h1v1h-1zM602 471h2v1h-2zM634 471h2v1h-2zM90 472h1v1h-1zM114 472h1v1h-1zM381 472h1v1h-1zM445 472h1v1h-1zM604 472h2v1h-2zM633 472h1v1h-1zM91 473h1v1h-1zM113 473h1v1h-1zM382 473h2v1h-2zM444 473h1v1h-1zM606 473h4v1h-4zM630 473h3v1h-3zM92 474h1v1h-1zM111 474h2v1h-2zM384 474h1v1h-1zM443 474h1v1h-1zM610 474h4v1h-4zM626 474h4v1h-4zM93 475h1v1h-1zM109 475h2v1h-2zM385 475h2v1h-2zM442 475h1v1h-1zM614 475h12v1h-12zM94 476h2v1h-2zM107 476h2v1h-2zM387 476h2v1h-2zM441 476h1v1h-1zM96 477h2v1h-2zM105 477h2v1h-2zM389 477h2v1h-2zM440 477h1v1h-1zM98 478h7v1h-7zM391 478h3v1h-3zM438 478h2v1h-2zM394 479h4v1h-4zM437 479h1v1h-1zM398 480h3v1h-3zM435 480h2v1h-2zM401 481h2v1h-2zM433 481h2v1h-2zM403 482h3v1h-3zM431 482h2v1h-2zM406 483h4v1h-4zM429 483h2v1h-2zM410 484h4v1h-4zM426 484h3v1h-3zM414 485h12v1h-12z"/>
</g>
<rect x="1167" y="419" width="1" height="1" fill="#000" />
<rect x="1167" y="459" width="1" height="1" fill="#000" />
<rect x="1167" y="488" width="1" height="1" fill="#000" />
<text x="1170" y="428" font-size="10" fill="#000" textLength="38" lengthAdjust="spacingAndGlyphs" >0.004926</text>
<text x="1170" y="463" font-size="10" fill="#000" textLength="17.5" lengthAdjust="spacingAndGlyphs" >0.00</text>
<text x="1170" y="486" font-size="10" fill="#000" textLength="36" lengthAdjust="spacingAndGlyphs" >-0.00361</text>
<text x="8.3" y="430" font-size="10" fill="#000" textLength="150.5" lengthAdjust="spacingAndGlyphs" >MACD(12,26,9) -0.000338 0.000599</text>
<g clip-path="url(#cRsi)">
<line x1="5" y1="514.5" x2="1166" y2="514.5" stroke="#c0c0c0" stroke-width="1" stroke-dasharray="3,3"/>
<line x1="5" y1="543.5" x2="1166" y2="543.5" stroke="#c0c0c0" stroke-width="1" stroke-dasharray="3,3"/>
<path fill="#1e90ff" d="M240 515h5v1h-5zM474 515h3v1h-3zM850 515h7v1h-7zM238 516h2v1h-2zM245 516h1v1h-1zM470 516h4v1h-4zM476 516h1v1h-1zM848 516h2v1h-2zM857 516h1v1h-1zM237 517h1v1h-1zM245 517h1v1h-1zM280 517h1v1h-1zM444 517h1v1h-1zM464 517h6v1h-6zM477 517h1v1h-1zM692 517h2v1h-2zM698 517h3v1h-3zM846 517h2v1h-2zM857 517h1v1h-1zM107 518h2v1h-2zM236 518h1v1h-1zM246 518h1v1h-1zM279 518h1v1h-1zM281 518h2v1h-2zM443 518h1v1h-1zM445 518h2v1h-2zM462 518h2v1h-2zM477 518h1v1h-1zM691 518h1v1h-1zM694 518h4v1h-4zM701 518h1v1h-1zM840 518h2v1h-2zM845 518h1v1h-1zM858 518h1v1h-1zM105 519h2v1h-2zM109 519h2v1h-2zM114 519h3v1h-3zM235 519h1v1h-1zM247 519h1v1h-1zM278 519h1v1h-1zM283 519h2v1h-2zM442 519h1v1h-1zM447 519h2v1h-2zM461 519h1v1h-1zM477 519h1v1h-1zM690 519h1v1h-1zM702 519h1v1h-1zM839 519h1v1h-1zM842 519h3v1h-3zM859 519h1v1h-1zM104 520h1v1h-1zM111 520h3v1h-3zM116 520h1v1h-1zM235 520h1v1h-1zM247 520h1v1h-1zM277 520h1v1h-1zM285 520h1v1h-1zM441 520h1v1h-1zM449 520h1v1h-1zM458 520h3v1h-3zM477 520h1v1h-1zM632 520h1v1h-1zM690 520h1v1h-1zM702 520h1v1h-1zM838 520h1v1h-1zM859 520h1v1h-1zM103 521h1v1h-1zM117 521h1v1h-1zM207 521h2v1h-2zM234 521h1v1h-1zM248 521h1v1h-1zM276 521h1v1h-1zM286 521h2v1h-2zM440 521h1v1h-1zM450 521h1v1h-1zM455 521h3v1h-3zM478 521h1v1h-1zM632 521h2v1h-2zM689 521h1v1h-1zM703 521h1v1h-1zM828 521h1v1h-1zM837 521h1v1h-1zM860 521h1v1h-1zM102 522h1v1h-1zM117 522h1v1h-1zM205 522h2v1h-2zM209 522h1v1h-1zM224 522h1v1h-1zM234 522h1v1h-1zM249 522h1v1h-1zM274 522h2v1h-2zM288 522h2v1h-2zM439 522h1v1h-1zM451 522h1v1h-1zM453 522h2v1h-2zM478 522h1v1h-1zM631 522h1v1h-1zM634 522h1v1h-1zM688 522h1v1h-1zM704 522h1v1h-1zM827 522h1v1h-1zM829 522h1v1h-1zM836 522h1v1h-1zM861 522h1v1h-1zM36 523h1v1h-1zM102 523h1v1h-1zM118 523h1v1h-1zM204 523h1v1h-1zM209 523h1v1h-1zM223 523h1v1h-1zM225 523h1v1h-1zM233 523h1v1h-1zM250 523h1v1h-1zM256 523h1v1h-1zM273 523h1v1h-1zM290 523h3v1h-3zM324 523h1v1h-1zM438 523h1v1h-1zM452 523h1v1h-1zM478 523h1v1h-1zM631 523h1v1h-1zM634 523h1v1h-1zM687 523h1v1h-1zM705 523h1v1h-1zM826 523h1v1h-1zM830 523h1v1h-1zM834 523h2v1h-2zM862 523h1v1h-1zM34 524h2v1h-2zM37 524h1v1h-1zM101 524h1v1h-1zM118 524h1v1h-1zM203 524h1v1h-1zM210 524h1v1h-1zM222 524h1v1h-1zM226 524h2v1h-2zM233 524h1v1h-1zM250 524h1v1h-1zM254 524h2v1h-2zM257 524h2v1h-2zM270 524h3v1h-3zM293 524h1v1h-1zM322 524h2v1h-2zM325 524h1v1h-1zM428 524h2v1h-2zM437 524h1v1h-1zM478 524h1v1h-1zM630 524h1v1h-1zM635 524h1v1h-1zM686 524h1v1h-1zM705 524h1v1h-1zM720 524h2v1h-2zM739 524h3v1h-3zM790 524h7v1h-7zM825 524h1v1h-1zM831 524h1v1h-1zM833 524h1v1h-1zM862 524h1v1h-1zM870 524h7v1h-7zM896 524h1v1h-1zM12 525h1v1h-1zM23 525h3v1h-3zM33 525h1v1h-1zM38 525h1v1h-1zM46 525h4v1h-4zM96 525h5v1h-5zM119 525h1v1h-1zM138 525h4v1h-4zM164 525h1v1h-1zM202 525h1v1h-1zM210 525h1v1h-1zM221 525h1v1h-1zM228 525h5v1h-5zM251 525h1v1h-1zM253 525h1v1h-1zM259 525h11v1h-11zM294 525h1v1h-1zM300 525h2v1h-2zM306 525h3v1h-3zM321 525h1v1h-1zM325 525h1v1h-1zM426 525h2v1h-2zM430 525h7v1h-7zM479 525h1v1h-1zM620 525h1v1h-1zM630 525h1v1h-1zM636 525h1v1h-1zM686 525h1v1h-1zM706 525h1v1h-1zM719 525h1v1h-1zM722 525h3v1h-3zM731 525h3v1h-3zM737 525h2v1h-2zM742 525h4v1h-4zM754 525h3v1h-3zM788 525h2v1h-2zM796 525h1v1h-1zM824 525h1v1h-1zM832 525h1v1h-1zM863 525h1v1h-1zM866 525h4v1h-4zM877 525h1v1h-1zM894 525h2v1h-2zM897 525h1v1h-1zM11 526h1v1h-1zM13 526h1v1h-1zM21 526h2v1h-2zM26 526h7v1h-7zM38 526h1v1h-1zM43 526h3v1h-3zM50 526h3v1h-3zM96 526h1v1h-1zM119 526h1v1h-1zM135 526h3v1h-3zM142 526h4v1h-4zM163 526h1v1h-1zM165 526h1v1h-1zM176 526h1v1h-1zM202 526h1v1h-1zM211 526h1v1h-1zM215 526h6v1h-6zM252 526h1v1h-1zM294 526h1v1h-1zM298 526h2v1h-2zM302 526h4v1h-4zM309 526h2v1h-2zM314 526h7v1h-7zM326 526h1v1h-1zM425 526h1v1h-1zM479 526h1v1h-1zM512 526h2v1h-2zM619 526h1v1h-1zM621 526h1v1h-1zM629 526h1v1h-1zM637 526h1v1h-1zM685 526h1v1h-1zM707 526h1v1h-1zM718 526h1v1h-1zM725 526h2v1h-2zM729 526h2v1h-2zM734 526h3v1h-3zM746 526h8v1h-8zM757 526h1v1h-1zM788 526h1v1h-1zM797 526h1v1h-1zM823 526h1v1h-1zM864 526h2v1h-2zM878 526h2v1h-2zM893 526h1v1h-1zM898 526h2v1h-2zM10 527h1v1h-1zM14 527h1v1h-1zM20 527h1v1h-1zM39 527h1v1h-1zM41 527h2v1h-2zM53 527h1v1h-1zM95 527h1v1h-1zM120 527h1v1h-1zM133 527h2v1h-2zM146 527h3v1h-3zM162 527h1v1h-1zM165 527h1v1h-1zM175 527h1v1h-1zM177 527h2v1h-2zM201 527h1v1h-1zM211 527h1v1h-1zM213 527h2v1h-2zM295 527h1v1h-1zM297 527h1v1h-1zM311 527h3v1h-3zM326 527h1v1h-1zM424 527h1v1h-1zM479 527h1v1h-1zM511 527h1v1h-1zM514 527h3v1h-3zM539 527h6v1h-6zM552 527h2v1h-2zM618 527h1v1h-1zM622 527h1v1h-1zM629 527h1v1h-1zM637 527h1v1h-1zM684 527h1v1h-1zM707 527h1v1h-1zM717 527h1v1h-1zM727 527h2v1h-2zM758 527h1v1h-1zM787 527h1v1h-1zM797 527h1v1h-1zM822 527h1v1h-1zM880 527h1v1h-1zM887 527h6v1h-6zM900 527h1v1h-1zM924 527h1v1h-1zM10 528h1v1h-1zM14 528h1v1h-1zM18 528h2v1h-2zM40 528h1v1h-1zM54 528h1v1h-1zM95 528h1v1h-1zM120 528h5v1h-5zM132 528h1v1h-1zM149 528h1v1h-1zM162 528h1v1h-1zM166 528h1v1h-1zM175 528h1v1h-1zM179 528h7v1h-7zM199 528h2v1h-2zM212 528h1v1h-1zM296 528h1v1h-1zM327 528h1v1h-1zM424 528h1v1h-1zM479 528h1v1h-1zM511 528h1v1h-1zM517 528h1v1h-1zM524 528h1v1h-1zM537 528h2v1h-2zM545 528h1v1h-1zM551 528h1v1h-1zM554 528h3v1h-3zM563 528h2v1h-2zM618 528h1v1h-1zM623 528h1v1h-1zM626 528h3v1h-3zM638 528h1v1h-1zM683 528h1v1h-1zM708 528h1v1h-1zM715 528h2v1h-2zM758 528h1v1h-1zM787 528h1v1h-1zM798 528h1v1h-1zM821 528h1v1h-1zM881 528h2v1h-2zM885 528h2v1h-2zM901 528h1v1h-1zM923 528h1v1h-1zM9 529h1v1h-1zM15 529h1v1h-1zM17 529h1v1h-1zM54 529h1v1h-1zM95 529h1v1h-1zM125 529h1v1h-1zM130 529h2v1h-2zM150 529h1v1h-1zM161 529h1v1h-1zM166 529h1v1h-1zM174 529h1v1h-1zM186 529h4v1h-4zM197 529h2v1h-2zM327 529h1v1h-1zM423 529h1v1h-1zM480 529h1v1h-1zM483 529h3v1h-3zM510 529h1v1h-1zM518 529h1v1h-1zM522 529h2v1h-2zM525 529h2v1h-2zM534 529h3v1h-3zM546 529h1v1h-1zM550 529h1v1h-1zM557 529h2v1h-2zM561 529h2v1h-2zM565 529h1v1h-1zM608 529h1v1h-1zM617 529h1v1h-1zM624 529h2v1h-2zM638 529h1v1h-1zM660 529h1v1h-1zM667 529h2v1h-2zM682 529h1v1h-1zM709 529h2v1h-2zM713 529h2v1h-2zM759 529h1v1h-1zM780 529h1v1h-1zM786 529h1v1h-1zM798 529h1v1h-1zM820 529h1v1h-1zM883 529h2v1h-2zM901 529h1v1h-1zM922 529h1v1h-1zM6 530h3v1h-3zM16 530h1v1h-1zM55 530h1v1h-1zM94 530h1v1h-1zM126 530h2v1h-2zM129 530h1v1h-1zM150 530h1v1h-1zM158 530h3v1h-3zM167 530h1v1h-1zM173 530h1v1h-1zM190 530h7v1h-7zM328 530h1v1h-1zM330 530h3v1h-3zM423 530h1v1h-1zM480 530h3v1h-3zM486 530h3v1h-3zM510 530h1v1h-1zM519 530h1v1h-1zM521 530h1v1h-1zM527 530h7v1h-7zM546 530h1v1h-1zM550 530h1v1h-1zM559 530h2v1h-2zM566 530h1v1h-1zM608 530h2v1h-2zM615 530h2v1h-2zM639 530h1v1h-1zM658 530h2v1h-2zM661 530h2v1h-2zM665 530h2v1h-2zM669 530h1v1h-1zM681 530h1v1h-1zM711 530h2v1h-2zM760 530h1v1h-1zM767 530h3v1h-3zM779 530h1v1h-1zM781 530h1v1h-1zM786 530h1v1h-1zM799 530h1v1h-1zM807 530h2v1h-2zM818 530h2v1h-2zM902 530h1v1h-1zM921 530h1v1h-1zM4 531h2v1h-2zM56 531h2v1h-2zM94 531h1v1h-1zM128 531h1v1h-1zM151 531h1v1h-1zM154 531h4v1h-4zM167 531h1v1h-1zM173 531h1v1h-1zM328 531h2v1h-2zM333 531h2v1h-2zM338 531h8v1h-8zM422 531h1v1h-1zM480 531h1v1h-1zM489 531h1v1h-1zM509 531h1v1h-1zM520 531h1v1h-1zM547 531h1v1h-1zM549 531h1v1h-1zM567 531h1v1h-1zM607 531h1v1h-1zM610 531h2v1h-2zM613 531h2v1h-2zM639 531h1v1h-1zM657 531h1v1h-1zM663 531h2v1h-2zM670 531h1v1h-1zM679 531h2v1h-2zM761 531h2v1h-2zM765 531h2v1h-2zM770 531h3v1h-3zM779 531h1v1h-1zM782 531h1v1h-1zM785 531h1v1h-1zM799 531h1v1h-1zM805 531h2v1h-2zM809 531h2v1h-2zM817 531h1v1h-1zM902 531h1v1h-1zM918 531h3v1h-3zM58 532h3v1h-3zM93 532h1v1h-1zM152 532h2v1h-2zM168 532h5v1h-5zM335 532h3v1h-3zM346 532h3v1h-3zM422 532h1v1h-1zM490 532h2v1h-2zM494 532h7v1h-7zM509 532h1v1h-1zM548 532h1v1h-1zM568 532h2v1h-2zM574 532h7v1h-7zM607 532h1v1h-1zM612 532h1v1h-1zM640 532h1v1h-1zM650 532h7v1h-7zM670 532h1v1h-1zM677 532h2v1h-2zM763 532h2v1h-2zM773 532h1v1h-1zM778 532h1v1h-1zM783 532h1v1h-1zM785 532h1v1h-1zM800 532h1v1h-1zM802 532h3v1h-3zM811 532h6v1h-6zM903 532h1v1h-1zM912 532h6v1h-6zM61 533h1v1h-1zM93 533h1v1h-1zM349 533h1v1h-1zM368 533h5v1h-5zM396 533h1v1h-1zM415 533h2v1h-2zM421 533h1v1h-1zM492 533h2v1h-2zM501 533h2v1h-2zM506 533h3v1h-3zM570 533h4v1h-4zM581 533h2v1h-2zM606 533h1v1h-1zM640 533h1v1h-1zM647 533h3v1h-3zM671 533h1v1h-1zM674 533h3v1h-3zM774 533h1v1h-1zM778 533h1v1h-1zM784 533h1v1h-1zM800 533h2v1h-2zM903 533h1v1h-1zM910 533h2v1h-2zM62 534h1v1h-1zM93 534h1v1h-1zM350 534h1v1h-1zM367 534h1v1h-1zM373 534h2v1h-2zM387 534h2v1h-2zM395 534h1v1h-1zM397 534h1v1h-1zM413 534h2v1h-2zM417 534h1v1h-1zM421 534h1v1h-1zM503 534h3v1h-3zM583 534h6v1h-6zM606 534h1v1h-1zM641 534h2v1h-2zM645 534h2v1h-2zM672 534h2v1h-2zM774 534h1v1h-1zM777 534h1v1h-1zM904 534h1v1h-1zM909 534h1v1h-1zM62 535h1v1h-1zM92 535h1v1h-1zM351 535h1v1h-1zM366 535h1v1h-1zM375 535h2v1h-2zM385 535h2v1h-2zM389 535h1v1h-1zM395 535h1v1h-1zM398 535h2v1h-2zM402 535h11v1h-11zM418 535h3v1h-3zM589 535h1v1h-1zM606 535h1v1h-1zM643 535h2v1h-2zM775 535h1v1h-1zM777 535h1v1h-1zM904 535h5v1h-5zM63 536h1v1h-1zM90 536h3v1h-3zM352 536h2v1h-2zM366 536h1v1h-1zM377 536h1v1h-1zM384 536h1v1h-1zM389 536h1v1h-1zM394 536h1v1h-1zM400 536h2v1h-2zM420 536h1v1h-1zM590 536h1v1h-1zM605 536h1v1h-1zM776 536h1v1h-1zM64 537h1v1h-1zM88 537h2v1h-2zM354 537h3v1h-3zM365 537h1v1h-1zM377 537h1v1h-1zM383 537h1v1h-1zM390 537h1v1h-1zM394 537h1v1h-1zM591 537h1v1h-1zM605 537h1v1h-1zM65 538h1v1h-1zM87 538h1v1h-1zM357 538h2v1h-2zM362 538h3v1h-3zM378 538h1v1h-1zM382 538h1v1h-1zM391 538h1v1h-1zM393 538h1v1h-1zM592 538h5v1h-5zM604 538h1v1h-1zM66 539h2v1h-2zM70 539h8v1h-8zM86 539h1v1h-1zM359 539h3v1h-3zM379 539h1v1h-1zM382 539h1v1h-1zM391 539h1v1h-1zM393 539h1v1h-1zM597 539h2v1h-2zM602 539h3v1h-3zM68 540h2v1h-2zM78 540h4v1h-4zM85 540h1v1h-1zM379 540h1v1h-1zM381 540h1v1h-1zM392 540h1v1h-1zM599 540h3v1h-3zM82 541h3v1h-3zM380 541h1v1h-1z"/>
</g>
<rect x="1167" y="493" width="1" height="1" fill="#000" />
<rect x="1167" y="514" width="1" height="1" fill="#000" />
<rect x="1167" y="543" width="1" height="1" fill="#000" />
<rect x="1167" y="564" width="1" height="1" fill="#000" />
<text x="1170" y="502" font-size="10" fill="#000" textLength="15" lengthAdjust="spacingAndGlyphs" >100</text>
<text x="1170" y="517.5" font-size="10" fill="#000" textLength="10" lengthAdjust="spacingAndGlyphs" >70</text>
<text x="1170" y="547" font-size="10" fill="#000" textLength="10" lengthAdjust="spacingAndGlyphs" >30</text>
<text x="1170" y="562" font-size="10" fill="#000" textLength="4.5" lengthAdjust="spacingAndGlyphs" >0</text>
<text x="8.3" y="504" font-size="10" fill="#000" textLength="67" lengthAdjust="spacingAndGlyphs" >RSI(14) 51.4667</text>
<rect x="4" y="566" width="1" height="3" fill="#000" />
<text x="3.7" y="578" font-size="10" fill="#000" textLength="46.9" lengthAdjust="spacingAndGlyphs" >11 Jul 2021</text>
<rect x="68" y="566" width="1" height="3" fill="#000" />
<text x="67.7" y="578" font-size="10" fill="#000" textLength="47.6" lengthAdjust="spacingAndGlyphs" >29 Jul 2021</text>
<rect x="132" y="566" width="1" height="3" fill="#000" />
<text x="131.7" y="578" font-size="10" fill="#000" textLength="51.7" lengthAdjust="spacingAndGlyphs" >17 Aug 2021</text>
<rect x="196" y="566" width="1" height="3" fill="#000" />
<text x="195.7" y="578" font-size="10" fill="#000" textLength="47.1" lengthAdjust="spacingAndGlyphs" >5 Sep 2021</text>
<rect x="260" y="566" width="1" height="3" fill="#000" />
<text x="259.7" y="578" font-size="10" fill="#000" textLength="52.2" lengthAdjust="spacingAndGlyphs" >23 Sep 2021</text>
<rect x="324" y="566" width="1" height="3" fill="#000" />
<text x="323.7" y="578" font-size="10" fill="#000" textLength="50.1" lengthAdjust="spacingAndGlyphs" >12 Oct 2021</text>
<rect x="388" y="566" width="1" height="3" fill="#000" />
<text x="387.7" y="578" font-size="10" fill="#000" textLength="50.1" lengthAdjust="spacingAndGlyphs" >31 Oct 2021</text>
<rect x="452" y="566" width="1" height="3" fill="#000" />
<text x="451.7" y="578" font-size="10" fill="#000" textLength="52.2" lengthAdjust="spacingAndGlyphs" >18 Nov 2021</text>
<rect x="516" y="566" width="1" height="3" fill="#000" />
<text x="515.7" y="578" font-size="10" fill="#000" textLength="47.1" lengthAdjust="spacingAndGlyphs" >7 Dec 2021</text>
<rect x="580" y="566" width="1" height="3" fill="#000" />
<text x="579.7" y="578" font-size="10" fill="#000" textLength="52.2" lengthAdjust="spacingAndGlyphs" >26 Dec 2021</text>
<rect x="644" y="566" width="1" height="3" fill="#000" />
<text x="643.7" y="578" font-size="10" fill="#000" textLength="50.6" lengthAdjust="spacingAndGlyphs" >13 Jan 2022</text>
<rect x="708" y="566" width="1" height="3" fill="#000" />
<text x="707.7" y="578" font-size="10" fill="#000" textLength="46.5" lengthAdjust="spacingAndGlyphs" >1 Feb 2022</text>
<rect x="772" y="566" width="1" height="3" fill="#000" />
<text x="771.7" y="578" font-size="10" fill="#000" textLength="51.7" lengthAdjust="spacingAndGlyphs" >20 Feb 2022</text>
<rect x="836" y="566" width="1" height="3" fill="#000" />
<text x="835.7" y="578" font-size="10" fill="#000" textLength="51.7" lengthAdjust="spacingAndGlyphs" >10 Mar 2022</text>
<rect x="900" y="566" width="1" height="3" fill="#000" />
<text x="899.7" y="578" font-size="10" fill="#000" textLength="51.7" lengthAdjust="spacingAndGlyphs" >29 Mar 2022</text>
<path d="M7,34.5 L10.5,30 L14,34.5 Z" fill="#000" shape-rendering="auto"/>
<text x="19.2" y="35" font-size="10" fill="#000" textLength="66.5" lengthAdjust="spacingAndGlyphs" >USDCHF-,Daily</text>
<text x="93" y="35" font-size="10" fill="#000" textLength="141" lengthAdjust="spacingAndGlyphs" >0.92627 0.92973 0.92366 0.92940</text>
<rect x="7" y="43" width="52" height="25" fill="url(#gTop)" />
<rect x="174" y="43" width="52" height="25" fill="url(#gTop)" />
<rect x="7" y="67" width="109" height="33" fill="url(#gBot)" />
<rect x="118" y="67" width="108" height="33" fill="url(#gBot)" />
<rect x="11" y="67" width="44" height="1" fill="#f6a0a0" />
<rect x="178" y="67" width="44" height="1" fill="#f6a0a0" />
<rect x="61" y="43" width="111" height="22" fill="#ffffff" stroke="#b4b4b4" stroke-width="1" transform="translate(0.5,0.5)"/>
<rect x="62" y="44" width="20" height="20" fill="url(#gBtn)" stroke="#a8a8a8" stroke-width="1" transform="translate(0.5,0.5)"/>
<rect x="151" y="44" width="20" height="20" fill="url(#gBtn)" stroke="#a8a8a8" stroke-width="1" transform="translate(0.5,0.5)"/>
<path d="M69,52 L75,52 L72,55.5 Z" fill="#4060c0" shape-rendering="auto"/>
<path d="M158,55.5 L164,55.5 L161,52 Z" fill="#4060c0" shape-rendering="auto"/>
<text x="123.7" y="58.3" font-size="12" fill="#101020" textLength="23" lengthAdjust="spacingAndGlyphs" >0.50</text>
<text x="19.2" y="58.7" font-size="12" fill="#fff" textLength="25" lengthAdjust="spacingAndGlyphs" >SELL</text>
<text x="187.5" y="58.7" font-size="12" fill="#fff" textLength="23" lengthAdjust="spacingAndGlyphs" >BUY</text>
<text x="27" y="93.8" font-size="10.5" fill="#fff" textLength="24" lengthAdjust="spacingAndGlyphs" font-weight="bold" >0.92</text>
<text x="137" y="93.8" font-size="10.5" fill="#fff" textLength="24" lengthAdjust="spacingAndGlyphs" font-weight="bold" >0.92</text>
<text x="54.8" y="94.8" font-size="34.5" fill="#fff" textLength="35.2" lengthAdjust="spacingAndGlyphs" stroke="url(#gBot)" stroke-width="0.7">94</text>
<text x="165.5" y="94.8" font-size="34.5" fill="#fff" textLength="35.2" lengthAdjust="spacingAndGlyphs" stroke="url(#gBot)" stroke-width="0.7">96</text>
<text x="95.2" y="78.3" font-size="11" fill="#fff" textLength="6.3" lengthAdjust="spacingAndGlyphs" font-weight="bold" >0</text>
<text x="206" y="78.3" font-size="11" fill="#fff" textLength="5.8" lengthAdjust="spacingAndGlyphs" font-weight="bold" >1</text>
<rect x="0" y="586" width="1206" height="1" fill="#e3e3e3" />
<rect x="0" y="587" width="1206" height="1" fill="#ffffff" />
<rect x="0" y="588" width="1206" height="1" fill="#000" />
<rect x="0" y="589" width="1206" height="18" fill="#f0f0f0" />
<rect x="0" y="607" width="1206" height="1" fill="#fcfcfc" />
<rect x="0" y="608" width="1206" height="2" fill="#f0f0f0" />
<rect x="0" y="588" width="1" height="19" fill="#696969" />
<rect x="322" y="587" width="107" height="20" fill="#ffffff" />
<rect x="321" y="588" width="1" height="19" fill="#000" />
<rect x="428" y="588" width="1" height="19" fill="#000" />
<rect x="321" y="606" width="108" height="1" fill="#000" />
<text x="16.6" y="602.7" font-size="12" fill="#6a6a6a" textLength="77.3" lengthAdjust="spacingAndGlyphs" >USDX,Weekly</text>
<text x="116.1" y="602.7" font-size="12" fill="#6a6a6a" textLength="84.9" lengthAdjust="spacingAndGlyphs" >EURUSD-,Daily</text>
<text x="223.2" y="602.7" font-size="12" fill="#6a6a6a" textLength="86.8" lengthAdjust="spacingAndGlyphs" >AUDUSD-,Daily</text>
<text x="440.5" y="602.7" font-size="12" fill="#6a6a6a" textLength="85.5" lengthAdjust="spacingAndGlyphs" >USDCAD-,Daily</text>
<text x="549.3" y="602.7" font-size="12" fill="#6a6a6a" textLength="87.8" lengthAdjust="spacingAndGlyphs" >USDCNH-,Daily</text>
<text x="660.4" y="602.7" font-size="12" fill="#6a6a6a" textLength="72.9" lengthAdjust="spacingAndGlyphs" >XAUUSD-,H4</text>
<text x="756.6" y="602.7" font-size="12" fill="#6a6a6a" textLength="68.6" lengthAdjust="spacingAndGlyphs" >UKOil-,Daily</text>
<text x="849.1" y="602.7" font-size="12" fill="#6a6a6a" textLength="63.7" lengthAdjust="spacingAndGlyphs" >DJ30-,Daily</text>
<text x="936.3" y="602.7" font-size="12" fill="#6a6a6a" textLength="61.4" lengthAdjust="spacingAndGlyphs" >UK100-,H1</text>
<text x="1021.6" y="602.7" font-size="12" fill="#6a6a6a" textLength="55.4" lengthAdjust="spacingAndGlyphs" >USOil-,H1</text>
<text x="1099.5" y="602.7" font-size="12" fill="#6a6a6a" textLength="53.8" lengthAdjust="spacingAndGlyphs" >HK50-,H1</text>
<text x="333.5" y="602.7" font-size="12" fill="#000" textLength="83.3" lengthAdjust="spacingAndGlyphs" >USDCHF-,Daily</text>
<rect x="105" y="591" width="1" height="14" fill="#555" />
<rect x="213" y="591" width="1" height="14" fill="#555" />
<rect x="537" y="591" width="1" height="14" fill="#555" />
<rect x="649" y="591" width="1" height="14" fill="#555" />
<rect x="745" y="591" width="1" height="14" fill="#555" />
<rect x="837" y="591" width="1" height="14" fill="#555" />
<rect x="925" y="591" width="1" height="14" fill="#555" />
<rect x="1009" y="591" width="1" height="14" fill="#555" />
<rect x="1089" y="591" width="1" height="14" fill="#555" />
<rect x="1165" y="591" width="1" height="14" fill="#555" />
<path d="M1185,594 L1185,600 L1181.7,597 Z" fill="#9a9a9a" shape-rendering="auto"/>
<path d="M1200.6,593.8 L1200.6,600.2 L1204.3,597 Z" fill="#000" shape-rendering="auto"/>
</svg>
</body></html>
